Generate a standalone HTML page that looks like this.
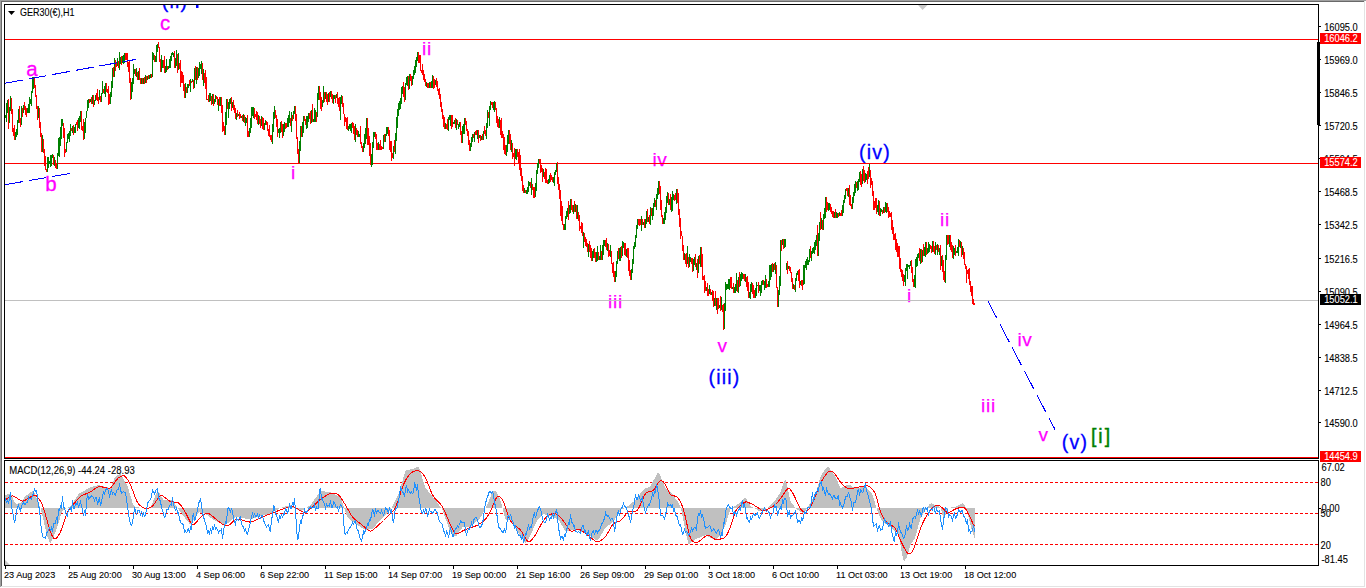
<!DOCTYPE html><html><head><meta charset="utf-8"><style>html,body{margin:0;padding:0;width:1366px;height:588px;overflow:hidden;background:#fff}svg{display:block}text{font-family:"Liberation Sans",sans-serif}</style></head><body>
<svg width="1366" height="588" viewBox="0 0 1366 588">
<defs><clipPath id="cm"><rect x="5" y="5" width="1313" height="453"/></clipPath></defs>
<g shape-rendering="crispEdges">
<rect x="0" y="0" width="1366" height="1" fill="#a0a0a0"/>
<rect x="0" y="0" width="1" height="587" fill="#a0a0a0"/>
<rect x="1" y="1" width="1364" height="1" fill="#696969"/>
<rect x="1" y="1" width="1" height="586" fill="#696969"/>
<rect x="1" y="586" width="1364" height="1" fill="#e3e3e3"/>
<rect x="1364" y="1" width="1" height="586" fill="#e3e3e3"/>
</g>
<g clip-path="url(#cm)">
<text x="175.0" y="7.5" font-size="19.5" fill="#0000ff" stroke="#0000ff" stroke-width="0.3" letter-spacing="1.2" text-anchor="middle">(ii)</text>
<rect x="196" y="5" width="2.5" height="3" fill="#0000ff"/>
<text x="165.0" y="30.0" font-size="20.5" fill="#ff00ff" stroke="#ff00ff" stroke-width="0.3" letter-spacing="0" text-anchor="middle">c</text>
<text x="32.0" y="75.5" font-size="20.5" fill="#ff00ff" stroke="#ff00ff" stroke-width="0.3" letter-spacing="0" text-anchor="middle">a</text>
<text x="51.0" y="191.0" font-size="20.5" fill="#ff00ff" stroke="#ff00ff" stroke-width="0.3" letter-spacing="0" text-anchor="middle">b</text>
<text x="293.5" y="179.0" font-size="19" fill="#ff00ff" stroke="#ff00ff" stroke-width="0.25" letter-spacing="0.7" text-anchor="middle">i</text>
<text x="427.0" y="55.0" font-size="19" fill="#ff00ff" stroke="#ff00ff" stroke-width="0.25" letter-spacing="0.7" text-anchor="middle">ii</text>
<text x="615.5" y="308.0" font-size="19" fill="#ff00ff" stroke="#ff00ff" stroke-width="0.25" letter-spacing="0.7" text-anchor="middle">iii</text>
<text x="660.0" y="166.0" font-size="19" fill="#ff00ff" stroke="#ff00ff" stroke-width="0.25" letter-spacing="0.7" text-anchor="middle">iv</text>
<text x="722.5" y="351.5" font-size="19" fill="#ff00ff" stroke="#ff00ff" stroke-width="0.25" letter-spacing="0.7" text-anchor="middle">v</text>
<text x="724.5" y="384.0" font-size="19.5" fill="#0000ff" stroke="#0000ff" stroke-width="0.3" letter-spacing="1.2" text-anchor="middle">(iii)</text>
<text x="875.0" y="159.0" font-size="19.5" fill="#0000ff" stroke="#0000ff" stroke-width="0.3" letter-spacing="1.2" text-anchor="middle">(iv)</text>
<text x="909.5" y="301.5" font-size="19" fill="#ff00ff" stroke="#ff00ff" stroke-width="0.25" letter-spacing="0.7" text-anchor="middle">i</text>
<text x="945.0" y="226.0" font-size="19" fill="#ff00ff" stroke="#ff00ff" stroke-width="0.25" letter-spacing="0.7" text-anchor="middle">ii</text>
<text x="1025.0" y="346.0" font-size="19" fill="#ff00ff" stroke="#ff00ff" stroke-width="0.25" letter-spacing="0.7" text-anchor="middle">iv</text>
<text x="988.5" y="411.5" font-size="19" fill="#ff00ff" stroke="#ff00ff" stroke-width="0.25" letter-spacing="0.7" text-anchor="middle">iii</text>
<text x="1043.5" y="441.0" font-size="19" fill="#ff00ff" stroke="#ff00ff" stroke-width="0.25" letter-spacing="0.7" text-anchor="middle">v</text>
<text x="1075.0" y="448.5" font-size="19.5" fill="#0000ff" stroke="#0000ff" stroke-width="0.3" letter-spacing="1.2" text-anchor="middle">(v)</text>
<text x="1101.5" y="443.0" font-size="19.5" fill="#008000" stroke="#008000" stroke-width="0.4" letter-spacing="2.0" text-anchor="middle">[i]</text>
</g>
<g shape-rendering="crispEdges">
<path d="M5 39.5H1318M5 163.5H1318M5 457.5H1318" stroke="#ff0000" stroke-width="1"/>
<path d="M5 300.5H1318" stroke="#c0c0c0" stroke-width="1"/>
<path d="M5.5 115.0V118.3M6.5 103.0V121.5M7.5 99.5V113.3M9.5 106.6V122.5M10.5 95.5V110.6M15.5 132.2V139.5M16.5 128.7V137.2M17.5 119.5V134.7M18.5 109.4V123.1M21.5 106.3V125.0M23.5 104.6V113.1M27.5 107.5V112.5M28.5 104.2V112.5M29.5 97.2V112.5M30.5 99.1V104.0M31.5 90.7V106.4M32.5 76.5V92.7M33.5 76.5V89.4M38.5 106.3V118.3M42.5 134.6V151.9M47.5 156.5V171.6M48.5 156.7V168.1M49.5 161.2V164.1M50.5 155.3V166.5M51.5 154.5V165.8M52.5 153.7V158.3M54.5 157.0V166.4M57.5 152.9V168.5M58.5 138.3V156.4M59.5 136.7V156.6M60.5 127.3V145.8M61.5 119.0V138.7M62.5 119.0V126.2M66.5 141.7V152.2M67.5 134.0V143.0M68.5 132.5V138.5M69.5 130.7V141.7M70.5 123.7V135.6M72.5 125.7V133.2M74.5 126.5V132.9M75.5 123.9V132.9M78.5 118.0V128.2M79.5 115.6V128.7M80.5 111.0V122.2M84.5 122.1V139.3M85.5 117.9V133.4M86.5 110.5V118.1M87.5 99.5V111.2M88.5 99.2V107.9M90.5 98.5V102.0M92.5 95.1V104.3M94.5 99.7V104.7M95.5 95.4V100.6M99.5 89.9V100.1M101.5 92.5V102.0M102.5 80.7V93.9M104.5 86.1V93.7M105.5 83.0V96.5M110.5 92.4V104.0M111.5 81.2V96.7M112.5 68.0V87.6M114.5 58.4V76.7M117.5 58.1V66.4M119.5 52.1V69.9M120.5 57.4V64.2M122.5 56.0V62.9M123.5 55.0V64.0M124.5 52.5V62.5M131.5 81.8V99.3M132.5 77.9V91.5M133.5 64.1V83.7M134.5 68.5V74.2M136.5 68.2V76.7M138.5 70.5V79.6M141.5 77.6V84.3M143.5 77.5V83.9M145.5 75.1V83.1M147.5 75.6V79.5M149.5 74.8V78.5M150.5 74.4V78.0M152.5 52.0V77.1M153.5 53.3V59.9M155.5 56.0V61.6M156.5 44.9V61.7M157.5 44.2V52.0M161.5 54.9V71.5M162.5 59.5V68.0M165.5 65.5V73.0M166.5 59.0V71.5M168.5 66.0V68.7M169.5 59.2V67.5M170.5 56.1V68.1M171.5 53.0V60.7M172.5 52.0V55.4M173.5 52.6V56.5M175.5 57.7V67.7M176.5 50.2V66.0M178.5 52.5V69.7M185.5 83.4V97.5M187.5 84.3V93.1M188.5 84.4V87.7M190.5 79.4V92.0M192.5 79.0V82.0M194.5 68.3V87.5M196.5 66.6V84.1M198.5 68.3V78.4M199.5 62.0V75.9M200.5 64.3V68.8M201.5 60.5V74.2M203.5 68.9V86.3M207.5 99.0V100.4M209.5 92.9V101.5M210.5 92.8V100.7M212.5 94.0V103.8M214.5 98.7V103.6M215.5 94.5V102.4M218.5 99.1V110.9M220.5 97.3V106.0M225.5 111.5V134.5M226.5 98.5V124.9M228.5 102.0V118.0M229.5 98.5V109.1M230.5 97.8V104.0M232.5 102.2V108.0M236.5 112.5V119.6M238.5 113.6V116.1M241.5 115.8V118.0M243.5 113.8V122.0M245.5 116.9V125.8M246.5 117.5V122.8M249.5 127.7V136.6M250.5 118.0V133.0M251.5 106.5V128.0M252.5 106.5V116.1M253.5 106.5V118.0M258.5 114.7V124.5M261.5 116.1V126.0M264.5 122.5V129.8M265.5 120.1V125.4M272.5 124.2V143.5M273.5 112.2V132.3M274.5 106.0V119.1M278.5 129.1V132.7M279.5 127.7V137.7M280.5 121.7V133.3M283.5 123.7V136.1M284.5 121.7V132.4M287.5 118.1V127.3M288.5 115.0V126.6M289.5 111.4V123.4M291.5 111.7V131.6M293.5 111.1V118.9M294.5 106.0V113.8M299.5 140.8V162.5M300.5 125.5V150.8M302.5 122.1V136.7M303.5 115.5V133.0M306.5 115.8V128.9M307.5 116.3V127.5M308.5 112.5V121.5M311.5 110.0V123.3M313.5 118.5V121.5M314.5 107.7V121.5M315.5 109.6V121.5M317.5 92.5V117.1M318.5 85.7V99.9M322.5 99.5V106.6M323.5 86.1V102.6M325.5 92.3V99.0M328.5 93.3V102.3M330.5 91.0V96.5M333.5 94.9V103.8M334.5 95.2V99.1M336.5 94.1V98.2M340.5 96.9V119.8M341.5 95.1V103.7M348.5 125.6V130.8M349.5 124.4V129.2M350.5 123.5V131.0M351.5 123.2V133.1M355.5 123.8V141.8M358.5 130.7V137.1M359.5 133.8V136.8M363.5 143.2V151.7M364.5 133.9V148.1M365.5 127.8V143.8M366.5 118.2V138.7M371.5 154.3V166.5M372.5 141.5V164.6M373.5 131.5V147.7M374.5 131.5V136.5M378.5 142.1V149.7M383.5 134.7V148.8M385.5 133.6V141.8M386.5 126.5V136.3M387.5 126.5V133.8M393.5 146.0V158.8M395.5 133.0V154.3M396.5 117.3V141.1M397.5 109.0V128.3M398.5 103.3V115.7M399.5 101.4V109.9M400.5 97.6V108.7M401.5 87.4V104.0M402.5 85.5V94.2M405.5 83.3V99.8M406.5 77.2V85.2M407.5 75.8V85.7M409.5 73.8V88.7M412.5 76.1V84.5M413.5 69.7V79.3M414.5 66.3V74.7M415.5 60.0V73.0M416.5 56.5V66.6M417.5 51.5V60.9M426.5 81.9V86.7M429.5 82.3V88.2M431.5 80.7V88.4M432.5 75.2V88.1M435.5 79.7V85.4M445.5 123.1V128.5M448.5 116.6V130.7M449.5 115.3V119.7M450.5 115.1V125.5M453.5 121.5V124.0M454.5 119.7V124.2M456.5 119.1V129.5M458.5 124.1V128.8M459.5 122.3V127.2M462.5 125.5V142.5M463.5 124.3V133.5M464.5 117.5V133.8M470.5 143.3V150.5M471.5 137.3V146.5M472.5 134.0V141.7M474.5 131.5V142.0M477.5 130.0V138.5M479.5 134.7V137.5M481.5 135.6V140.0M483.5 131.4V139.8M486.5 123.4V139.1M487.5 110.3V128.3M489.5 105.8V125.6M490.5 100.5V110.0M493.5 102.0V110.4M494.5 100.5V112.3M499.5 117.4V128.0M506.5 145.3V155.5M507.5 134.6V151.5M508.5 129.5V144.4M511.5 139.8V152.3M515.5 148.5V159.1M516.5 148.5V160.2M524.5 188.2V192.5M526.5 190.4V194.4M527.5 186.6V194.0M528.5 180.5V191.7M529.5 182.0V185.8M531.5 178.3V194.7M535.5 183.0V196.8M536.5 170.0V191.3M537.5 162.6V174.2M538.5 158.5V168.2M543.5 168.9V176.6M548.5 178.6V184.4M549.5 175.1V183.0M553.5 176.5V183.3M554.5 172.2V185.6M555.5 169.5V175.3M556.5 163.0V172.3M564.5 223.7V229.5M565.5 216.2V229.5M566.5 211.1V218.7M567.5 208.4V217.1M569.5 204.9V214.2M570.5 199.2V212.5M573.5 204.6V214.0M575.5 204.1V211.7M577.5 204.8V219.1M583.5 232.2V247.9M588.5 243.7V257.4M592.5 251.2V261.2M593.5 249.4V258.0M596.5 252.2V261.8M597.5 246.0V260.9M599.5 255.9V260.0M600.5 245.0V260.0M602.5 245.3V259.6M603.5 240.0V255.3M604.5 240.0V246.0M607.5 243.1V250.5M610.5 245.2V257.3M615.5 270.7V281.5M616.5 260.5V276.7M617.5 250.6V263.8M619.5 248.3V261.1M620.5 247.2V261.3M622.5 241.2V255.5M623.5 242.3V248.4M626.5 249.3V257.0M631.5 268.7V279.5M632.5 259.3V273.2M633.5 246.0V263.5M634.5 241.5V248.5M635.5 235.0V246.6M636.5 225.4V237.9M637.5 218.7V229.3M641.5 216.2V230.9M643.5 222.1V225.4M645.5 218.8V227.7M646.5 210.6V223.6M648.5 217.0V222.4M650.5 206.8V224.5M652.5 208.2V220.1M653.5 202.5V215.7M654.5 197.9V206.6M656.5 194.0V209.8M657.5 188.0V198.5M658.5 181.2V195.4M663.5 217.9V223.5M664.5 212.0V223.5M665.5 207.3V219.5M666.5 196.0V213.4M667.5 192.0V202.5M669.5 199.2V204.7M671.5 197.3V211.7M672.5 190.7V210.9M673.5 194.4V200.0M676.5 188.5V203.5M684.5 252.6V259.8M687.5 246.4V264.2M689.5 254.4V267.3M690.5 257.3V262.0M693.5 258.6V271.4M694.5 257.3V264.8M696.5 262.5V269.7M698.5 256.3V272.7M700.5 246.5V266.6M706.5 286.5V291.4M709.5 285.0V293.5M711.5 291.6V294.6M714.5 298.2V305.9M716.5 297.8V309.9M719.5 304.6V307.9M721.5 297.2V310.0M724.5 303.1V329.2M725.5 282.1V311.0M726.5 284.2V290.2M727.5 283.6V288.5M728.5 278.6V288.5M729.5 278.5V289.6M732.5 287.0V289.4M734.5 286.6V293.3M735.5 284.3V292.9M736.5 272.5V290.9M738.5 277.0V292.5M740.5 274.4V286.3M741.5 272.3V281.4M742.5 272.7V278.6M745.5 273.5V282.0M749.5 292.3V298.4M750.5 284.4V298.7M751.5 282.1V292.0M755.5 287.6V298.3M756.5 281.7V296.3M757.5 285.1V286.1M759.5 285.2V291.3M760.5 285.4V295.8M761.5 280.7V292.7M762.5 280.4V285.0M764.5 280.6V289.7M765.5 275.1V287.8M768.5 280.6V286.8M769.5 265.4V286.5M770.5 264.6V280.0M771.5 264.2V276.8M773.5 263.8V271.8M775.5 262.0V274.4M778.5 290.0V306.5M779.5 276.0V295.0M780.5 240.0V285.7M782.5 238.5V244.9M784.5 239.2V247.8M785.5 238.5V246.5M786.5 263.4V269.6M788.5 265.7V269.4M793.5 283.6V288.8M795.5 278.2V291.9M796.5 273.4V280.8M797.5 271.0V274.7M800.5 281.2V284.7M803.5 265.1V285.4M804.5 265.4V283.6M805.5 260.8V268.0M806.5 258.5V269.9M807.5 256.6V264.5M808.5 259.9V264.5M809.5 248.8V262.1M811.5 251.4V261.4M812.5 248.2V253.8M813.5 246.9V252.8M814.5 242.0V253.7M815.5 240.1V250.0M816.5 235.1V246.0M818.5 233.0V255.5M819.5 222.0V241.0M821.5 217.7V228.9M823.5 214.1V229.6M824.5 207.7V219.4M825.5 196.5V218.4M828.5 203.2V210.9M829.5 203.4V210.3M834.5 211.7V218.0M836.5 212.4V218.2M837.5 212.8V217.5M839.5 212.2V216.2M842.5 205.0V215.5M843.5 200.3V213.4M844.5 194.8V202.5M845.5 188.5V199.3M848.5 187.8V196.7M852.5 196.8V208.5M853.5 191.6V203.3M854.5 183.5V195.6M855.5 181.3V192.5M857.5 181.3V191.0M858.5 179.0V189.5M859.5 171.7V181.8M862.5 169.3V184.4M865.5 173.4V181.5M866.5 173.6V179.7M869.5 164.0V176.7M877.5 204.5V212.4M878.5 200.1V215.3M880.5 208.2V215.8M881.5 208.5V212.0M883.5 207.2V213.4M885.5 201.9V212.1M886.5 202.7V212.5M904.5 274.9V281.9M905.5 267.7V285.6M906.5 264.3V271.2M907.5 264.3V278.8M908.5 264.5V266.8M909.5 264.5V268.5M910.5 260.5V266.0M914.5 274.5V287.0M915.5 258.8V288.3M916.5 257.2V266.7M917.5 254.0V266.3M918.5 252.5V258.3M920.5 249.1V264.2M922.5 249.8V261.8M924.5 246.6V255.8M925.5 242.4V257.2M927.5 248.0V254.2M928.5 241.9V252.5M929.5 244.4V251.8M932.5 241.3V251.8M935.5 242.2V255.4M937.5 243.5V254.8M939.5 247.5V255.0M941.5 255.8V265.5M945.5 255.2V282.5M946.5 234.5V260.2M949.5 235.4V246.5M953.5 246.0V258.8M954.5 247.6V254.8M956.5 250.6V252.5M957.5 247.1V253.1M958.5 239.3V255.9M960.5 241.0V248.3M962.5 246.2V255.0" stroke="#008000" stroke-width="1" fill="none"/><path d="M8.5 99.3V129.3M11.5 98.4V113.6M12.5 109.3V131.7M13.5 127.6V135.7M14.5 125.0V139.5M19.5 106.4V122.6M20.5 118.2V126.9M22.5 107.7V117.1M24.5 102.1V109.5M25.5 105.8V114.8M26.5 107.6V116.5M34.5 76.5V88.1M35.5 85.1V96.5M36.5 94.7V109.2M37.5 105.8V120.0M39.5 107.5V128.1M40.5 121.8V136.7M41.5 133.0V152.1M43.5 138.9V153.3M44.5 148.7V166.2M45.5 156.4V170.3M46.5 168.9V171.5M53.5 154.9V164.7M55.5 159.9V167.6M56.5 162.5V168.5M63.5 123.2V138.0M64.5 127.8V157.0M65.5 149.3V152.7M71.5 127.6V130.5M73.5 125.0V134.5M76.5 121.9V124.7M77.5 120.4V131.4M81.5 110.7V129.8M82.5 125.5V130.9M83.5 119.4V139.5M89.5 98.9V103.0M91.5 96.8V104.1M93.5 94.8V107.4M96.5 93.2V99.8M97.5 88.8V101.0M98.5 97.4V103.8M100.5 96.2V102.2M103.5 89.2V93.1M106.5 82.8V92.0M107.5 88.9V93.3M108.5 85.6V105.1M109.5 93.5V103.6M113.5 66.6V76.9M115.5 60.1V70.5M116.5 63.4V67.3M118.5 61.3V67.6M121.5 55.9V64.7M125.5 52.5V59.8M126.5 52.5V59.9M127.5 52.5V67.0M128.5 61.5V71.7M129.5 61.3V82.8M130.5 77.9V100.0M135.5 68.5V75.9M137.5 71.7V80.0M139.5 67.9V80.3M140.5 77.5V83.9M142.5 78.0V84.3M144.5 77.0V83.5M146.5 76.0V82.7M148.5 75.2V79.0M151.5 74.0V77.5M154.5 54.7V61.5M158.5 42.0V48.2M159.5 47.1V61.9M160.5 58.5V71.5M163.5 59.9V68.1M164.5 56.3V72.7M167.5 66.0V69.8M174.5 50.9V68.1M177.5 53.7V72.7M179.5 62.7V69.1M180.5 60.0V87.4M181.5 71.3V83.4M182.5 72.2V82.6M183.5 75.3V90.6M184.5 84.1V97.5M186.5 86.9V93.1M189.5 79.6V86.4M191.5 80.6V83.3M193.5 79.5V89.0M195.5 65.7V80.1M197.5 67.3V79.6M202.5 62.8V79.7M204.5 73.0V82.6M205.5 69.5V89.0M206.5 76.5V100.0M208.5 95.4V101.5M211.5 96.3V104.7M213.5 93.6V105.8M216.5 95.7V98.9M217.5 96.9V104.8M219.5 97.2V105.8M221.5 97.4V112.8M222.5 104.9V131.8M223.5 122.1V130.7M224.5 125.7V134.5M227.5 98.5V109.4M231.5 97.3V111.0M233.5 100.3V110.0M234.5 104.9V113.3M235.5 107.7V118.8M237.5 110.3V116.9M239.5 111.9V119.3M240.5 113.9V118.1M242.5 114.8V120.7M244.5 114.6V122.8M247.5 114.7V137.0M248.5 131.1V137.4M254.5 107.7V118.6M255.5 113.5V117.3M256.5 110.9V120.0M257.5 112.3V124.4M259.5 115.6V123.8M260.5 118.9V127.5M262.5 116.8V128.8M263.5 117.8V129.6M266.5 120.8V125.0M267.5 121.9V130.8M268.5 129.4V135.7M269.5 125.3V137.3M270.5 134.7V139.8M271.5 135.4V142.0M275.5 109.9V118.3M276.5 114.5V126.7M277.5 118.7V137.0M281.5 120.6V131.8M282.5 123.8V137.9M285.5 122.8V128.7M286.5 123.3V128.0M290.5 117.5V125.8M292.5 114.8V120.7M295.5 106.0V120.9M296.5 113.5V139.3M297.5 137.1V153.9M298.5 148.7V162.5M301.5 126.0V136.7M304.5 115.5V120.7M305.5 118.5V125.4M309.5 112.8V119.0M310.5 111.2V124.1M312.5 103.7V121.6M316.5 112.3V121.5M319.5 86.0V100.2M320.5 92.2V109.0M321.5 97.4V111.3M324.5 92.3V102.0M326.5 91.6V102.0M327.5 94.4V105.0M329.5 92.2V101.6M331.5 91.0V99.1M332.5 94.4V102.5M335.5 94.7V102.5M337.5 91.9V104.0M338.5 97.7V107.1M339.5 97.3V110.7M342.5 96.1V106.6M343.5 102.5V114.2M344.5 114.0V126.1M345.5 116.9V121.6M346.5 118.2V128.9M347.5 117.2V129.5M352.5 122.3V128.0M353.5 123.4V134.1M354.5 125.5V140.0M356.5 128.1V134.7M357.5 130.1V136.6M360.5 126.3V143.6M361.5 141.5V147.6M362.5 145.9V152.0M367.5 118.2V144.6M368.5 128.3V144.6M369.5 136.4V156.0M370.5 143.1V165.0M375.5 131.5V138.5M376.5 134.1V150.4M377.5 142.5V149.7M379.5 144.1V149.7M380.5 140.4V150.1M381.5 146.4V149.5M382.5 147.0V148.8M384.5 134.2V141.6M388.5 126.5V135.8M389.5 130.4V150.4M390.5 141.0V152.4M391.5 141.4V160.5M392.5 152.5V158.0M394.5 139.5V151.6M403.5 82.3V96.9M404.5 87.2V101.8M408.5 76.3V89.6M410.5 73.8V80.6M411.5 75.6V85.9M418.5 51.5V62.9M419.5 55.4V63.4M420.5 54.5V70.7M421.5 69.7V72.6M422.5 63.5V75.0M423.5 69.8V80.0M424.5 73.5V81.6M425.5 78.7V85.8M427.5 82.5V87.5M428.5 83.2V88.2M430.5 81.5V88.2M433.5 75.9V89.1M434.5 78.7V88.2M436.5 77.5V87.2M437.5 81.2V91.3M438.5 88.5V95.0M439.5 88.3V98.9M440.5 94.3V107.0M441.5 101.9V112.2M442.5 108.6V119.4M443.5 114.6V126.9M444.5 117.2V128.5M446.5 123.9V129.2M447.5 118.9V129.8M451.5 114.9V128.6M452.5 115.1V126.6M455.5 117.9V128.3M457.5 119.8V125.0M460.5 122.3V135.3M461.5 131.3V142.5M465.5 117.5V124.8M466.5 120.9V130.8M467.5 128.9V136.3M468.5 130.6V145.0M469.5 140.1V150.5M473.5 134.0V137.8M475.5 130.7V134.6M476.5 130.0V135.1M478.5 130.2V143.0M480.5 134.7V141.1M482.5 134.3V140.4M484.5 125.7V134.3M485.5 130.0V135.5M488.5 112.0V118.1M491.5 101.8V105.2M492.5 102.0V108.0M495.5 101.9V110.2M496.5 108.4V122.6M497.5 116.3V126.7M498.5 118.9V127.9M500.5 119.8V135.4M501.5 117.9V137.7M502.5 131.3V138.0M503.5 134.1V150.2M504.5 136.9V153.7M505.5 145.3V154.6M509.5 129.5V144.3M510.5 134.1V150.0M512.5 143.0V158.5M513.5 152.6V157.0M514.5 147.8V165.6M517.5 148.5V156.7M518.5 151.5V164.4M519.5 148.5V170.0M520.5 154.5V175.7M521.5 167.7V181.3M522.5 175.6V191.3M523.5 185.3V192.5M525.5 190.0V193.4M530.5 181.5V188.4M532.5 184.1V190.0M533.5 186.6V197.5M534.5 187.0V197.5M539.5 158.5V163.4M540.5 158.5V172.5M541.5 164.7V171.5M542.5 167.6V181.7M544.5 172.3V178.6M545.5 168.1V182.5M546.5 169.2V183.3M547.5 179.5V184.2M550.5 173.0V182.4M551.5 175.1V180.4M552.5 176.8V181.8M557.5 161.8V183.8M558.5 177.1V190.0M559.5 184.2V198.9M560.5 190.4V216.2M561.5 200.6V221.4M562.5 206.3V225.0M563.5 223.5V229.5M568.5 201.1V220.0M571.5 198.6V210.1M572.5 205.3V211.7M574.5 201.2V212.1M576.5 205.3V218.5M578.5 212.4V220.5M579.5 214.6V230.5M580.5 225.5V229.3M581.5 222.3V232.6M582.5 222.8V236.3M584.5 232.9V242.3M585.5 236.8V245.9M586.5 239.4V246.5M587.5 242.8V252.0M589.5 241.1V252.0M590.5 244.5V258.1M591.5 247.6V260.7M594.5 248.0V258.0M595.5 252.0V262.3M598.5 252.0V260.0M601.5 250.7V260.0M605.5 239.5V246.7M606.5 238.2V250.0M608.5 243.9V257.4M609.5 250.4V256.2M611.5 250.6V264.4M612.5 262.6V273.2M613.5 262.1V277.2M614.5 271.2V281.5M618.5 248.3V258.5M621.5 245.6V257.9M624.5 242.5V255.0M625.5 242.5V256.2M627.5 248.2V257.7M628.5 247.9V271.4M629.5 260.1V275.8M630.5 270.2V279.5M638.5 218.5V225.4M639.5 218.5V225.7M640.5 219.2V225.0M642.5 218.7V225.2M644.5 219.4V228.3M647.5 209.2V221.7M649.5 215.0V223.6M651.5 208.4V215.5M655.5 200.0V207.3M659.5 180.5V193.5M660.5 185.6V209.8M661.5 200.2V217.0M662.5 214.9V223.5M668.5 192.6V205.2M670.5 194.2V210.0M674.5 194.7V200.6M675.5 192.7V200.4M677.5 188.5V202.5M678.5 192.7V215.0M679.5 208.5V227.1M680.5 218.1V238.8M681.5 231.0V235.9M682.5 235.5V251.0M683.5 245.0V259.5M685.5 253.7V264.0M686.5 253.1V266.5M688.5 256.7V268.3M691.5 257.8V264.1M692.5 258.0V272.0M695.5 254.3V266.5M697.5 259.1V277.5M699.5 254.7V263.5M701.5 246.5V267.1M702.5 253.9V279.6M703.5 275.7V280.4M704.5 275.2V293.1M705.5 280.6V290.7M707.5 283.0V296.4M708.5 289.4V296.1M710.5 289.1V295.4M712.5 289.8V301.2M713.5 290.5V307.2M715.5 291.2V305.7M717.5 297.9V314.3M718.5 297.5V308.8M720.5 296.2V311.3M722.5 304.9V312.0M723.5 303.9V329.8M730.5 276.7V288.1M731.5 276.7V289.2M733.5 283.3V293.3M737.5 280.4V292.4M739.5 272.4V287.0M743.5 273.5V278.5M744.5 273.5V280.6M746.5 277.0V286.7M747.5 275.8V291.3M748.5 281.8V298.1M752.5 282.8V293.6M753.5 285.0V297.8M754.5 290.4V298.3M758.5 281.7V293.1M763.5 280.1V285.0M766.5 278.6V287.7M767.5 283.6V287.2M772.5 263.1V272.4M774.5 262.5V269.7M776.5 265.3V288.3M777.5 287.2V306.5M781.5 240.0V251.3M783.5 238.5V249.3M787.5 261.0V274.0M789.5 265.8V271.3M790.5 267.3V272.6M791.5 271.8V281.5M792.5 278.0V289.1M794.5 285.2V290.0M798.5 270.0V281.0M799.5 269.1V288.3M801.5 280.0V286.0M802.5 280.3V290.0M810.5 246.3V258.1M817.5 224.9V255.5M820.5 211.8V229.8M822.5 220.4V230.0M826.5 196.5V212.1M827.5 202.0V210.2M830.5 204.0V212.3M831.5 206.7V213.7M832.5 211.1V216.7M833.5 211.4V217.7M835.5 209.2V218.4M838.5 213.2V216.9M840.5 212.5V215.6M841.5 209.5V215.5M846.5 188.2V191.1M847.5 188.0V195.7M849.5 184.7V204.9M850.5 195.1V206.0M851.5 203.8V208.5M856.5 181.6V187.7M860.5 171.1V185.3M861.5 174.4V186.9M863.5 166.3V181.1M864.5 170.2V182.6M867.5 170.7V184.2M868.5 167.3V179.3M870.5 170.4V187.7M871.5 178.1V185.0M872.5 181.1V195.8M873.5 190.8V209.7M874.5 200.5V210.0M875.5 198.1V208.3M876.5 198.0V213.5M879.5 201.2V215.8M882.5 209.7V213.5M884.5 206.8V212.7M887.5 203.4V211.5M888.5 206.5V218.3M889.5 210.9V217.1M890.5 213.3V216.6M891.5 212.2V230.3M892.5 220.2V233.8M893.5 227.3V239.6M894.5 233.5V240.4M895.5 233.4V249.8M896.5 238.7V251.8M897.5 242.7V256.7M898.5 245.8V257.3M899.5 245.5V268.7M900.5 257.9V272.0M901.5 268.5V276.7M902.5 269.7V281.3M903.5 274.1V286.0M911.5 259.9V273.0M912.5 267.1V281.5M913.5 279.4V287.0M919.5 247.7V261.4M921.5 249.1V263.3M923.5 244.0V255.6M926.5 241.6V255.0M930.5 245.0V249.0M931.5 245.6V252.8M933.5 241.1V252.4M934.5 246.2V253.5M936.5 245.3V249.7M938.5 245.2V251.5M940.5 245.3V269.7M942.5 254.9V272.0M943.5 259.8V280.0M944.5 271.4V282.4M947.5 234.5V244.9M948.5 235.2V243.5M950.5 234.5V250.0M951.5 242.4V252.1M952.5 244.7V258.2M955.5 244.8V256.0M959.5 240.0V247.4M961.5 242.0V257.4M963.5 247.6V259.0M964.5 252.3V264.5M965.5 264.3V269.1M966.5 265.6V283.0M967.5 269.8V274.3M968.5 268.8V278.7M969.5 268.1V285.0M970.5 281.1V292.0M971.5 286.1V296.4M972.5 285.5V303.7M973.5 299.0V304.5M974.5 303.0V304.7" stroke="#ff0000" stroke-width="1" fill="none"/>
</g>
<path d="M5 83.2L135.8 59.4M5 184.7L71.4 173.2" stroke="#0000ff" stroke-width="1" stroke-dasharray="18,6" fill="none" shape-rendering="crispEdges"/>
<path d="M987.6 300.5L1055 429.5" stroke="#0000ff" stroke-width="1" stroke-dasharray="20,6.5" fill="none" shape-rendering="crispEdges"/>
<g shape-rendering="crispEdges" fill="none" stroke="#000" stroke-width="1">
<path d="M4.5 4.5H1318.5V458.5H4.5Z"/>
<path d="M4.5 460.5H1318.5V565.5H4.5Z"/>
</g>
<rect x="1317" y="42" width="3" height="83" fill="#000"/>
<path d="M918 5H927.5L922.6 10Z" fill="#c8c8c8"/>
<path d="M1318 26.5H1321M1318 59.5H1321M1318 92.5H1321M1318 125.5H1321M1318 158.5H1321M1318 191.5H1321M1318 224.5H1321M1318 258.5H1321M1318 291.5H1321M1318 324.5H1321M1318 357.5H1321M1318 390.5H1321M1318 422.5H1321" stroke="#000" stroke-width="1" shape-rendering="crispEdges"/>
<text transform="translate(1324.20 31.00) scale(0.93 1.0)" font-size="10" fill="#000" stroke="#000" stroke-width="0.1">16095.0</text>
<text transform="translate(1324.20 64.00) scale(0.93 1.0)" font-size="10" fill="#000" stroke="#000" stroke-width="0.1">15969.0</text>
<text transform="translate(1324.20 97.00) scale(0.93 1.0)" font-size="10" fill="#000" stroke="#000" stroke-width="0.1">15846.5</text>
<text transform="translate(1324.20 130.00) scale(0.93 1.0)" font-size="10" fill="#000" stroke="#000" stroke-width="0.1">15720.5</text>
<text transform="translate(1324.20 163.00) scale(0.93 1.0)" font-size="10" fill="#000" stroke="#000" stroke-width="0.1">15594.5</text>
<text transform="translate(1324.20 196.00) scale(0.93 1.0)" font-size="10" fill="#000" stroke="#000" stroke-width="0.1">15468.5</text>
<text transform="translate(1324.20 229.00) scale(0.93 1.0)" font-size="10" fill="#000" stroke="#000" stroke-width="0.1">15342.5</text>
<text transform="translate(1324.20 263.00) scale(0.93 1.0)" font-size="10" fill="#000" stroke="#000" stroke-width="0.1">15216.5</text>
<text transform="translate(1324.20 296.00) scale(0.93 1.0)" font-size="10" fill="#000" stroke="#000" stroke-width="0.1">15090.5</text>
<text transform="translate(1324.20 329.00) scale(0.93 1.0)" font-size="10" fill="#000" stroke="#000" stroke-width="0.1">14964.5</text>
<text transform="translate(1324.20 362.00) scale(0.93 1.0)" font-size="10" fill="#000" stroke="#000" stroke-width="0.1">14838.5</text>
<text transform="translate(1324.20 395.00) scale(0.93 1.0)" font-size="10" fill="#000" stroke="#000" stroke-width="0.1">14712.5</text>
<text transform="translate(1324.20 427.00) scale(0.93 1.0)" font-size="10" fill="#000" stroke="#000" stroke-width="0.1">14590.0</text>
<rect x="1320" y="33.0" width="41" height="11" fill="#ff0000"/>
<text transform="translate(1324.20 42.00) scale(0.93 1.0)" font-size="10" fill="#fff" stroke="#fff" stroke-width="0.1">16046.2</text>
<rect x="1320" y="157.0" width="41" height="11" fill="#ff0000"/>
<text transform="translate(1324.20 166.00) scale(0.93 1.0)" font-size="10" fill="#fff" stroke="#fff" stroke-width="0.1">15574.2</text>
<rect x="1320" y="294.0" width="41" height="11" fill="#000000"/>
<text transform="translate(1324.20 303.00) scale(0.93 1.0)" font-size="10" fill="#fff" stroke="#fff" stroke-width="0.1">15052.1</text>
<rect x="1320" y="451.0" width="41" height="11" fill="#ff0000"/>
<text transform="translate(1324.20 460.00) scale(0.93 1.0)" font-size="10" fill="#fff" stroke="#fff" stroke-width="0.1">14454.9</text>
<path d="M5 482.5H1318M5 513.5H1318M5 544.5H1318" stroke="#ff0000" stroke-width="1" stroke-dasharray="3,2" shape-rendering="crispEdges"/>
<g shape-rendering="crispEdges"><path d="M5.5 494.9V508.0M6.5 494.6V508.0M7.5 494.2V508.0M8.5 493.8V508.0M9.5 493.5V508.0M10.5 493.7V508.0M11.5 495.3V508.0M12.5 497.4V508.0M13.5 499.6V508.0M14.5 501.7V508.0M15.5 503.3V508.0M16.5 503.7V508.0M17.5 503.6V508.0M18.5 503.4V508.0M19.5 503.2V508.0M20.5 502.7V508.0M21.5 501.6V508.0M22.5 500.2V508.0M23.5 498.8V508.0M24.5 497.4V508.0M25.5 496.2V508.0M26.5 495.3V508.0M27.5 494.5V508.0M28.5 493.8V508.0M29.5 493.0V508.0M30.5 492.2V508.0M31.5 491.5V508.0M32.5 490.8V508.0M33.5 490.9V508.0M34.5 492.6V508.0M35.5 495.1V508.0M36.5 497.7V508.0M37.5 500.3V508.0M38.5 502.9V508.0M39.5 505.5V508.0M40.5 508.0V508.4M41.5 508.0V512.2M42.5 508.0V516.3M43.5 508.0V520.4M44.5 508.0V524.6M45.5 508.0V528.7M46.5 508.0V532.8M47.5 508.0V536.5M48.5 508.0V539.3M49.5 508.0V541.6M50.5 508.0V542.7M51.5 508.0V541.4M52.5 508.0V539.0M53.5 508.0V536.5M54.5 508.0V534.0M55.5 508.0V531.5M56.5 508.0V528.8M57.5 508.0V525.8M58.5 508.0V522.7M59.5 508.0V519.5M60.5 508.0V516.3M61.5 508.0V513.2M62.5 508.0V510.7M63.5 508.0V509.6M64.5 508.0V509.0M65.5 508.0V508.5M66.5 508.0V508.0M67.5 507.5V508.0M68.5 507.0V508.0M69.5 506.5V508.0M70.5 505.7V508.0M71.5 504.5V508.0M72.5 503.0V508.0M73.5 501.5V508.0M74.5 500.0V508.0M75.5 498.5V508.0M76.5 497.0V508.0M77.5 495.5V508.0M78.5 494.2V508.0M79.5 493.4V508.0M80.5 492.8V508.0M81.5 492.2V508.0M82.5 491.7V508.0M83.5 491.1V508.0M84.5 490.5V508.0M85.5 489.9V508.0M86.5 489.3V508.0M87.5 488.8V508.0M88.5 488.2V508.0M89.5 487.6V508.0M90.5 487.1V508.0M91.5 486.8V508.0M92.5 486.5V508.0M93.5 486.2V508.0M94.5 486.0V508.0M95.5 485.8V508.0M96.5 485.5V508.0M97.5 485.3V508.0M98.5 485.1V508.0M99.5 485.3V508.0M100.5 485.5V508.0M101.5 485.7V508.0M102.5 486.0V508.0M103.5 486.2V508.0M104.5 486.5V508.0M105.5 486.8V508.0M106.5 487.0V508.0M107.5 487.2V508.0M108.5 487.5V508.0M109.5 487.7V508.0M110.5 487.3V508.0M111.5 485.5V508.0M112.5 483.2V508.0M113.5 480.8V508.0M114.5 478.4V508.0M115.5 476.5V508.0M116.5 475.6V508.0M117.5 475.0V508.0M118.5 474.6V508.0M119.5 474.1V508.0M120.5 474.2V508.0M121.5 475.4V508.0M122.5 477.1V508.0M123.5 478.9V508.0M124.5 480.7V508.0M125.5 482.5V508.0M126.5 484.3V508.0M127.5 486.4V508.0M128.5 489.4V508.0M129.5 492.7V508.0M130.5 496.0V508.0M131.5 499.3V508.0M132.5 502.6V508.0M133.5 505.2V508.0M134.5 506.2V508.0M135.5 506.6V508.0M136.5 506.9V508.0M137.5 507.1V508.0M138.5 507.4V508.0M139.5 507.7V508.0M140.5 507.9V508.0M141.5 508.0V508.0M142.5 508.0V508.0M143.5 508.0V508.0M144.5 508.0V508.0M145.5 508.0V508.0M146.5 508.0V508.0M147.5 508.0V508.0M148.5 508.0V508.0M149.5 507.9V508.0M150.5 507.3V508.0M151.5 505.4V508.0M152.5 502.9V508.0M153.5 500.3V508.0M154.5 497.7V508.0M155.5 495.1V508.0M156.5 492.7V508.0M157.5 491.2V508.0M158.5 491.8V508.0M159.5 493.3V508.0M160.5 495.0V508.0M161.5 496.7V508.0M162.5 498.3V508.0M163.5 499.5V508.0M164.5 500.0V508.0M165.5 500.0V508.0M166.5 500.0V508.0M167.5 500.0V508.0M168.5 500.0V508.0M169.5 500.0V508.0M170.5 500.0V508.0M171.5 500.0V508.0M172.5 500.4V508.0M173.5 501.5V508.0M174.5 503.0V508.0M175.5 504.5V508.0M176.5 506.0V508.0M177.5 507.5V508.0M178.5 508.0V509.0M179.5 508.0V510.5M180.5 508.0V511.9M181.5 508.0V513.3M182.5 508.0V514.6M183.5 508.0V515.9M184.5 508.0V517.2M185.5 508.0V518.5M186.5 508.0V519.8M187.5 508.0V521.1M188.5 508.0V522.4M189.5 508.0V523.6M190.5 508.0V524.2M191.5 508.0V523.3M192.5 508.0V521.8M193.5 508.0V520.1M194.5 508.0V518.5M195.5 508.0V516.9M196.5 508.0V515.2M197.5 508.0V513.7M198.5 508.0V512.5M199.5 508.0V512.3M200.5 508.0V512.6M201.5 508.0V512.9M202.5 508.0V513.1M203.5 508.0V513.4M204.5 508.0V513.7M205.5 508.0V514.1M206.5 508.0V514.7M207.5 508.0V515.4M208.5 508.0V516.1M209.5 508.0V516.8M210.5 508.0V517.5M211.5 508.0V518.2M212.5 508.0V518.9M213.5 508.0V519.6M214.5 508.0V520.3M215.5 508.0V520.9M216.5 508.0V521.4M217.5 508.0V521.8M218.5 508.0V522.2M219.5 508.0V522.6M220.5 508.0V523.0M221.5 508.0V523.4M222.5 508.0V523.8M223.5 508.0V524.2M224.5 508.0V524.6M225.5 508.0V524.7M226.5 508.0V524.2M227.5 508.0V523.4M228.5 508.0V522.6M229.5 508.0V521.8M230.5 508.0V521.0M231.5 508.0V520.2M232.5 508.0V519.4M233.5 508.0V518.6M234.5 508.0V517.8M235.5 508.0V517.3M236.5 508.0V517.1M237.5 508.0V517.2M238.5 508.0V517.4M239.5 508.0V517.5M240.5 508.0V517.6M241.5 508.0V517.8M242.5 508.0V518.0M243.5 508.0V518.2M244.5 508.0V518.4M245.5 508.0V518.6M246.5 508.0V518.8M247.5 508.0V519.0M248.5 508.0V519.2M249.5 508.0V519.4M250.5 508.0V519.4M251.5 508.0V519.2M252.5 508.0V518.8M253.5 508.0V518.4M254.5 508.0V518.0M255.5 508.0V517.6M256.5 508.0V517.2M257.5 508.0V516.8M258.5 508.0V516.4M259.5 508.0V516.0M260.5 508.0V515.7M261.5 508.0V515.4M262.5 508.0V515.2M263.5 508.0V515.0M264.5 508.0V514.8M265.5 508.0V514.7M266.5 508.0V514.5M267.5 508.0V514.3M268.5 508.0V514.1M269.5 508.0V513.9M270.5 508.0V513.6M271.5 508.0V513.1M272.5 508.0V512.5M273.5 508.0V511.9M274.5 508.0V511.3M275.5 508.0V510.7M276.5 508.0V510.2M277.5 508.0V509.6M278.5 508.0V509.0M279.5 508.0V508.4M280.5 507.9V508.0M281.5 507.5V508.0M282.5 507.2V508.0M283.5 507.0V508.0M284.5 506.7V508.0M285.5 506.4V508.0M286.5 506.1V508.0M287.5 505.8V508.0M288.5 505.6V508.0M289.5 505.3V508.0M290.5 505.3V508.0M291.5 505.7V508.0M292.5 506.3V508.0M293.5 507.0V508.0M294.5 507.7V508.0M295.5 508.0V508.4M296.5 508.0V509.0M297.5 508.0V509.7M298.5 508.0V510.4M299.5 508.0V511.0M300.5 508.0V511.3M301.5 508.0V511.0M302.5 508.0V510.4M303.5 508.0V509.7M304.5 508.0V509.0M305.5 508.0V508.3M306.5 507.7V508.0M307.5 507.0V508.0M308.5 506.3V508.0M309.5 505.7V508.0M310.5 504.8V508.0M311.5 503.6V508.0M312.5 502.2V508.0M313.5 500.8V508.0M314.5 499.4V508.0M315.5 498.0V508.0M316.5 496.6V508.0M317.5 495.2V508.0M318.5 493.8V508.0M319.5 492.4V508.0M320.5 491.4V508.0M321.5 491.1V508.0M322.5 491.2V508.0M323.5 491.3V508.0M324.5 491.4V508.0M325.5 491.5V508.0M326.5 491.6V508.0M327.5 491.7V508.0M328.5 491.8V508.0M329.5 491.9V508.0M330.5 492.1V508.0M331.5 492.5V508.0M332.5 493.0V508.0M333.5 493.5V508.0M334.5 494.0V508.0M335.5 494.5V508.0M336.5 495.0V508.0M337.5 495.5V508.0M338.5 496.0V508.0M339.5 496.6V508.0M340.5 497.7V508.0M341.5 500.0V508.0M342.5 502.9V508.0M343.5 505.8V508.0M344.5 508.0V508.8M345.5 508.0V511.7M346.5 508.0V514.6M347.5 508.0V517.0M348.5 508.0V518.4M349.5 508.0V519.2M350.5 508.0V520.0M351.5 508.0V520.8M352.5 508.0V521.6M353.5 508.0V522.4M354.5 508.0V523.2M355.5 508.0V523.9M356.5 508.0V524.6M357.5 508.0V525.2M358.5 508.0V525.8M359.5 508.0V526.4M360.5 508.0V527.0M361.5 508.0V527.6M362.5 508.0V528.2M363.5 508.0V528.8M364.5 508.0V529.4M365.5 508.0V529.8M366.5 508.0V529.8M367.5 508.0V529.7M368.5 508.0V529.6M369.5 508.0V529.4M370.5 508.0V529.3M371.5 508.0V529.1M372.5 508.0V528.7M373.5 508.0V527.8M374.5 508.0V526.6M375.5 508.0V525.5M376.5 508.0V524.3M377.5 508.0V523.1M378.5 508.0V522.0M379.5 508.0V520.8M380.5 508.0V519.7M381.5 508.0V518.6M382.5 508.0V517.6M383.5 508.0V516.7M384.5 508.0V515.7M385.5 508.0V514.7M386.5 508.0V513.7M387.5 508.0V512.7M388.5 508.0V511.8M389.5 508.0V510.8M390.5 508.0V509.5M391.5 507.8V508.0M392.5 505.8V508.0M393.5 503.9V508.0M394.5 501.9V508.0M395.5 499.9V508.0M396.5 497.9V508.0M397.5 495.9V508.0M398.5 493.6V508.0M399.5 490.6V508.0M400.5 487.3V508.0M401.5 484.0V508.0M402.5 480.6V508.0M403.5 477.3V508.0M404.5 474.0V508.0M405.5 471.4V508.0M406.5 470.4V508.0M407.5 470.1V508.0M408.5 469.9V508.0M409.5 469.6V508.0M410.5 469.4V508.0M411.5 469.2V508.0M412.5 468.9V508.0M413.5 468.6V508.0M414.5 468.1V508.0M415.5 467.5V508.0M416.5 467.0V508.0M417.5 466.5V508.0M418.5 466.8V508.0M419.5 469.1V508.0M420.5 472.1V508.0M421.5 475.3V508.0M422.5 478.5V508.0M423.5 481.7V508.0M424.5 484.8V508.0M425.5 487.5V508.0M426.5 489.2V508.0M427.5 490.4V508.0M428.5 491.6V508.0M429.5 492.8V508.0M430.5 494.0V508.0M431.5 495.2V508.0M432.5 496.4V508.0M433.5 497.6V508.0M434.5 498.8V508.0M435.5 500.1V508.0M436.5 501.4V508.0M437.5 502.8V508.0M438.5 504.2V508.0M439.5 505.6V508.0M440.5 507.0V508.0M441.5 508.0V508.4M442.5 508.0V510.2M443.5 508.0V512.7M444.5 508.0V515.6M445.5 508.0V518.5M446.5 508.0V521.4M447.5 508.0V524.3M448.5 508.0V527.2M449.5 508.0V530.1M450.5 508.0V532.4M451.5 508.0V533.8M452.5 508.0V534.6M453.5 508.0V535.4M454.5 508.0V536.2M455.5 508.0V536.4M456.5 508.0V535.5M457.5 508.0V534.1M458.5 508.0V532.7M459.5 508.0V531.3M460.5 508.0V529.9M461.5 508.0V528.5M462.5 508.0V527.4M463.5 508.0V527.0M464.5 508.0V527.0M465.5 508.0V527.0M466.5 508.0V527.0M467.5 508.0V527.0M468.5 508.0V527.0M469.5 508.0V527.0M470.5 508.0V526.7M471.5 508.0V526.0M472.5 508.0V525.1M473.5 508.0V524.2M474.5 508.0V523.2M475.5 508.0V522.3M476.5 508.0V521.4M477.5 508.0V520.4M478.5 508.0V519.5M479.5 508.0V518.5M480.5 508.0V517.3M481.5 508.0V515.6M482.5 508.0V513.7M483.5 508.0V511.8M484.5 508.0V509.8M485.5 507.9V508.0M486.5 505.9V508.0M487.5 503.9V508.0M488.5 501.6V508.0M489.5 499.2V508.0M490.5 496.8V508.0M491.5 494.4V508.0M492.5 492.5V508.0M493.5 491.4V508.0M494.5 490.7V508.0M495.5 490.7V508.0M496.5 492.1V508.0M497.5 494.0V508.0M498.5 496.0V508.0M499.5 498.0V508.0M500.5 500.5V508.0M501.5 504.0V508.0M502.5 507.8V508.0M503.5 508.0V511.8M504.5 508.0V515.6M505.5 508.0V518.5M506.5 508.0V519.5M507.5 508.0V519.6M508.5 508.0V519.6M509.5 508.0V519.6M510.5 508.0V520.1M511.5 508.0V521.3M512.5 508.0V522.9M513.5 508.0V524.6M514.5 508.0V526.3M515.5 508.0V528.0M516.5 508.0V529.7M517.5 508.0V531.3M518.5 508.0V533.0M519.5 508.0V534.6M520.5 508.0V536.1M521.5 508.0V537.7M522.5 508.0V539.3M523.5 508.0V540.9M524.5 508.0V542.4M525.5 508.0V543.1M526.5 508.0V542.1M527.5 508.0V540.4M528.5 508.0V538.6M529.5 508.0V536.8M530.5 508.0V534.9M531.5 508.0V532.8M532.5 508.0V530.6M533.5 508.0V528.4M534.5 508.0V526.2M535.5 508.0V524.0M536.5 508.0V521.8M537.5 508.0V519.9M538.5 508.0V518.6M539.5 508.0V517.6M540.5 508.0V516.7M541.5 508.0V515.7M542.5 508.0V514.7M543.5 508.0V514.1M544.5 508.0V514.1M545.5 508.0V514.5M546.5 508.0V514.9M547.5 508.0V515.3M548.5 508.0V515.6M549.5 508.0V516.0M550.5 508.0V516.4M551.5 508.0V516.8M552.5 508.0V517.2M553.5 508.0V517.6M554.5 508.0V518.0M555.5 508.0V518.4M556.5 508.0V518.8M557.5 508.0V519.2M558.5 508.0V519.9M559.5 508.0V521.3M560.5 508.0V522.9M561.5 508.0V524.6M562.5 508.0V526.3M563.5 508.0V528.0M564.5 508.0V529.6M565.5 508.0V530.8M566.5 508.0V531.1M567.5 508.0V530.9M568.5 508.0V530.7M569.5 508.0V530.5M570.5 508.0V530.3M571.5 508.0V530.1M572.5 508.0V529.9M573.5 508.0V529.7M574.5 508.0V529.5M575.5 508.0V529.5M576.5 508.0V529.7M577.5 508.0V530.0M578.5 508.0V530.4M579.5 508.0V530.8M580.5 508.0V531.1M581.5 508.0V531.5M582.5 508.0V531.9M583.5 508.0V532.3M584.5 508.0V532.6M585.5 508.0V533.1M586.5 508.0V533.7M587.5 508.0V534.3M588.5 508.0V535.0M589.5 508.0V535.7M590.5 508.0V536.3M591.5 508.0V537.0M592.5 508.0V537.7M593.5 508.0V538.3M594.5 508.0V539.0M595.5 508.0V539.7M596.5 508.0V540.3M597.5 508.0V540.4M598.5 508.0V539.2M599.5 508.0V537.6M600.5 508.0V535.9M601.5 508.0V534.2M602.5 508.0V532.5M603.5 508.0V530.8M604.5 508.0V529.1M605.5 508.0V527.7M606.5 508.0V526.7M607.5 508.0V525.9M608.5 508.0V525.2M609.5 508.0V524.5M610.5 508.0V523.7M611.5 508.0V523.0M612.5 508.0V522.2M613.5 508.0V521.2M614.5 508.0V519.8M615.5 508.0V518.2M616.5 508.0V516.5M617.5 508.0V514.8M618.5 508.0V513.1M619.5 508.0V511.5M620.5 508.0V510.1M621.5 508.0V509.4M622.5 508.0V509.0M623.5 508.0V508.6M624.5 508.0V508.2M625.5 507.7V508.0M626.5 507.0V508.0M627.5 506.2V508.0M628.5 505.5V508.0M629.5 504.7V508.0M630.5 503.9V508.0M631.5 503.1V508.0M632.5 502.3V508.0M633.5 501.6V508.0M634.5 500.8V508.0M635.5 499.8V508.0M636.5 498.6V508.0M637.5 497.3V508.0M638.5 495.9V508.0M639.5 494.6V508.0M640.5 493.2V508.0M641.5 491.9V508.0M642.5 490.6V508.0M643.5 489.5V508.0M644.5 488.8V508.0M645.5 488.4V508.0M646.5 488.0V508.0M647.5 487.5V508.0M648.5 487.1V508.0M649.5 486.7V508.0M650.5 485.9V508.0M651.5 484.3V508.0M652.5 482.4V508.0M653.5 480.4V508.0M654.5 478.5V508.0M655.5 476.6V508.0M656.5 474.9V508.0M657.5 473.3V508.0M658.5 472.7V508.0M659.5 474.0V508.0M660.5 476.3V508.0M661.5 478.6V508.0M662.5 481.0V508.0M663.5 483.3V508.0M664.5 485.6V508.0M665.5 487.6V508.0M666.5 488.8V508.0M667.5 489.7V508.0M668.5 490.6V508.0M669.5 491.4V508.0M670.5 492.3V508.0M671.5 493.2V508.0M672.5 494.2V508.0M673.5 495.5V508.0M674.5 497.0V508.0M675.5 498.5V508.0M676.5 499.9V508.0M677.5 501.4V508.0M678.5 502.9V508.0M679.5 504.5V508.0M680.5 506.9V508.0M681.5 508.0V511.1M682.5 508.0V516.1M683.5 508.0V521.1M684.5 508.0V526.2M685.5 508.0V531.2M686.5 508.0V535.9M687.5 508.0V540.3M688.5 508.0V543.5M689.5 508.0V544.0M690.5 508.0V543.3M691.5 508.0V542.4M692.5 508.0V541.6M693.5 508.0V540.7M694.5 508.0V539.9M695.5 508.0V539.1M696.5 508.0V538.6M697.5 508.0V538.2M698.5 508.0V537.9M699.5 508.0V537.5M700.5 508.0V537.1M701.5 508.0V536.7M702.5 508.0V536.3M703.5 508.0V536.0M704.5 508.0V535.6M705.5 508.0V535.4M706.5 508.0V535.7M707.5 508.0V536.2M708.5 508.0V536.6M709.5 508.0V537.1M710.5 508.0V537.6M711.5 508.0V538.1M712.5 508.0V538.6M713.5 508.0V539.0M714.5 508.0V539.5M715.5 508.0V539.6M716.5 508.0V539.0M717.5 508.0V538.0M718.5 508.0V537.0M719.5 508.0V536.0M720.5 508.0V534.7M721.5 508.0V533.0M722.5 508.0V531.0M723.5 508.0V529.0M724.5 508.0V527.0M725.5 508.0V524.6M726.5 508.0V521.6M727.5 508.0V518.2M728.5 508.0V514.8M729.5 508.0V511.5M730.5 508.0V508.8M731.5 507.6V508.0M732.5 507.2V508.0M733.5 506.7V508.0M734.5 506.3V508.0M735.5 505.8V508.0M736.5 505.1V508.0M737.5 504.3V508.0M738.5 503.6V508.0M739.5 502.8V508.0M740.5 501.9V508.0M741.5 501.0V508.0M742.5 500.0V508.0M743.5 499.0V508.0M744.5 498.1V508.0M745.5 497.8V508.0M746.5 498.8V508.0M747.5 500.6V508.0M748.5 502.3V508.0M749.5 504.1V508.0M750.5 505.6V508.0M751.5 506.5V508.0M752.5 507.1V508.0M753.5 507.6V508.0M754.5 508.0V508.2M755.5 508.0V508.8M756.5 508.0V509.4M757.5 508.0V510.0M758.5 508.0V510.5M759.5 508.0V511.1M760.5 508.0V511.4M761.5 508.0V511.1M762.5 508.0V510.6M763.5 508.0V510.0M764.5 508.0V509.5M765.5 508.0V508.9M766.5 508.0V508.3M767.5 507.7V508.0M768.5 506.8V508.0M769.5 505.8V508.0M770.5 504.9V508.0M771.5 503.9V508.0M772.5 502.9V508.0M773.5 501.9V508.0M774.5 501.0V508.0M775.5 499.8V508.0M776.5 498.4V508.0M777.5 496.9V508.0M778.5 495.3V508.0M779.5 493.7V508.0M780.5 491.8V508.0M781.5 489.2V508.0M782.5 486.3V508.0M783.5 483.4V508.0M784.5 480.6V508.0M785.5 479.6V508.0M786.5 482.6V508.0M787.5 487.3V508.0M788.5 492.2V508.0M789.5 497.0V508.0M790.5 501.0V508.0M791.5 503.0V508.0M792.5 504.2V508.0M793.5 505.3V508.0M794.5 506.5V508.0M795.5 507.6V508.0M796.5 508.0V508.7M797.5 508.0V509.7M798.5 508.0V510.4M799.5 508.0V511.1M800.5 508.0V511.8M801.5 508.0V512.4M802.5 508.0V513.0M803.5 508.0V513.1M804.5 508.0V512.1M805.5 508.0V510.6M806.5 508.0V509.0M807.5 507.5V508.0M808.5 505.9V508.0M809.5 504.2V508.0M810.5 502.5V508.0M811.5 500.8V508.0M812.5 499.1V508.0M813.5 497.4V508.0M814.5 495.7V508.0M815.5 493.5V508.0M816.5 490.5V508.0M817.5 487.0V508.0M818.5 483.5V508.0M819.5 480.0V508.0M820.5 477.0V508.0M821.5 475.0V508.0M822.5 473.4V508.0M823.5 471.8V508.0M824.5 470.3V508.0M825.5 468.9V508.0M826.5 468.1V508.0M827.5 467.4V508.0M828.5 467.3V508.0M829.5 468.1V508.0M830.5 469.5V508.0M831.5 470.9V508.0M832.5 472.3V508.0M833.5 473.7V508.0M834.5 475.1V508.0M835.5 476.8V508.0M836.5 478.9V508.0M837.5 481.2V508.0M838.5 483.6V508.0M839.5 485.9V508.0M840.5 487.5V508.0M841.5 487.7V508.0M842.5 487.3V508.0M843.5 486.8V508.0M844.5 486.3V508.0M845.5 485.8V508.0M846.5 485.3V508.0M847.5 484.8V508.0M848.5 484.6V508.0M849.5 484.9V508.0M850.5 485.4V508.0M851.5 486.0V508.0M852.5 486.6V508.0M853.5 487.2V508.0M854.5 487.7V508.0M855.5 488.1V508.0M856.5 488.1V508.0M857.5 487.9V508.0M858.5 487.7V508.0M859.5 487.5V508.0M860.5 487.3V508.0M861.5 487.1V508.0M862.5 486.9V508.0M863.5 486.7V508.0M864.5 486.5V508.0M865.5 486.7V508.0M866.5 487.4V508.0M867.5 488.5V508.0M868.5 489.6V508.0M869.5 490.7V508.0M870.5 491.8V508.0M871.5 493.0V508.0M872.5 494.7V508.0M873.5 497.6V508.0M874.5 501.1V508.0M875.5 504.6V508.0M876.5 508.0V508.1M877.5 508.0V511.3M878.5 508.0V513.6M879.5 508.0V515.6M880.5 508.0V517.6M881.5 508.0V519.5M882.5 508.0V521.2M883.5 508.0V522.2M884.5 508.0V523.0M885.5 508.0V523.7M886.5 508.0V524.4M887.5 508.0V525.2M888.5 508.0V525.9M889.5 508.0V526.7M890.5 508.0V527.4M891.5 508.0V528.2M892.5 508.0V529.0M893.5 508.0V529.8M894.5 508.0V530.6M895.5 508.0V531.4M896.5 508.0V532.2M897.5 508.0V533.4M898.5 508.0V535.8M899.5 508.0V540.1M900.5 508.0V545.2M901.5 508.0V550.7M902.5 508.0V556.2M903.5 508.0V560.1M904.5 508.0V560.5M905.5 508.0V559.3M906.5 508.0V557.5M907.5 508.0V554.7M908.5 508.0V551.5M909.5 508.0V548.3M910.5 508.0V545.4M911.5 508.0V543.4M912.5 508.0V541.8M913.5 508.0V540.2M914.5 508.0V538.6M915.5 508.0V536.4M916.5 508.0V533.1M917.5 508.0V529.2M918.5 508.0V525.4M919.5 508.0V521.5M920.5 508.0V518.2M921.5 508.0V516.1M922.5 508.0V514.5M923.5 508.0V512.9M924.5 508.0V511.4M925.5 508.0V509.9M926.5 508.0V508.4M927.5 507.1V508.0M928.5 505.7V508.0M929.5 504.4V508.0M930.5 503.5V508.0M931.5 503.4V508.0M932.5 503.8V508.0M933.5 504.1V508.0M934.5 504.5V508.0M935.5 504.9V508.0M936.5 505.3V508.0M937.5 505.7V508.0M938.5 506.0V508.0M939.5 506.5V508.0M940.5 507.8V508.0M941.5 508.0V511.1M942.5 508.0V515.1M943.5 508.0V517.7M944.5 508.0V517.0M945.5 508.0V514.8M946.5 508.0V512.5M947.5 508.0V510.2M948.5 508.0V508.4M949.5 507.7V508.0M950.5 507.5V508.0M951.5 507.4V508.0M952.5 507.2V508.0M953.5 507.1V508.0M954.5 506.9V508.0M955.5 506.7V508.0M956.5 506.2V508.0M957.5 505.7V508.0M958.5 505.1V508.0M959.5 504.6V508.0M960.5 504.0V508.0M961.5 503.5V508.0M962.5 503.4V508.0M963.5 504.2V508.0M964.5 505.3V508.0M965.5 506.6V508.0M966.5 508.0V508.7M967.5 508.0V512.4M968.5 508.0V516.9M969.5 508.0V521.2M970.5 508.0V525.0M971.5 508.0V528.5M972.5 508.0V532.0M973.5 508.0V535.4M974.5 508.0V538.0" stroke="#c0c0c0" stroke-width="1" fill="none"/></g>
<polyline points="5.5,499.5 6.5,499.1 7.5,498.5 8.5,497.8 9.5,497.2 10.5,496.6 11.5,496.1 12.5,496.0 13.5,496.1 14.5,496.6 15.5,497.1 16.5,497.8 17.5,498.5 18.5,499.2 19.5,499.9 20.5,500.5 21.5,500.9 22.5,501.1 23.5,501.0 24.5,500.6 25.5,500.1 26.5,499.5 27.5,498.9 28.5,498.3 29.5,497.7 30.5,497.1 31.5,496.5 32.5,495.9 33.5,495.4 34.5,495.2 35.5,495.4 36.5,496.1 37.5,497.1 38.5,498.4 39.5,499.8 40.5,501.4 41.5,503.2 42.5,505.5 43.5,508.3 44.5,511.5 45.5,514.9 46.5,518.5 47.5,522.1 48.5,525.6 49.5,528.9 50.5,531.9 51.5,534.4 52.5,536.5 53.5,537.9 54.5,538.7 55.5,538.6 56.5,538.0 57.5,536.9 58.5,535.5 59.5,533.8 60.5,531.7 61.5,529.3 62.5,526.5 63.5,523.5 64.5,520.5 65.5,517.5 66.5,514.8 67.5,512.4 68.5,510.5 69.5,508.9 70.5,507.6 71.5,506.4 72.5,505.2 73.5,504.1 74.5,502.9 75.5,501.8 76.5,500.6 77.5,499.5 78.5,498.4 79.5,497.4 80.5,496.5 81.5,495.8 82.5,495.3 83.5,494.8 84.5,494.4 85.5,494.0 86.5,493.6 87.5,493.2 88.5,492.8 89.5,492.3 90.5,491.8 91.5,491.1 92.5,490.5 93.5,489.7 94.5,489.0 95.5,488.3 96.5,487.6 97.5,487.1 98.5,486.7 99.5,486.6 100.5,486.6 101.5,486.8 102.5,487.0 103.5,487.3 104.5,487.5 105.5,487.8 106.5,488.0 107.5,488.2 108.5,488.3 109.5,488.2 110.5,487.7 111.5,486.9 112.5,485.7 113.5,484.2 114.5,482.7 115.5,481.3 116.5,479.9 117.5,478.8 118.5,477.8 119.5,477.1 120.5,476.6 121.5,476.1 122.5,475.8 123.5,475.7 124.5,476.0 125.5,476.8 126.5,478.0 127.5,479.4 128.5,481.0 129.5,482.8 130.5,484.9 131.5,487.3 132.5,489.9 133.5,492.6 134.5,495.4 135.5,498.0 136.5,500.5 137.5,502.4 138.5,503.9 139.5,505.0 140.5,505.8 141.5,506.5 142.5,507.1 143.5,507.7 144.5,508.1 145.5,508.4 146.5,508.4 147.5,508.3 148.5,508.1 149.5,507.8 150.5,507.4 151.5,506.9 152.5,506.1 153.5,505.0 154.5,503.6 155.5,502.1 156.5,500.5 157.5,498.9 158.5,497.5 159.5,496.4 160.5,495.7 161.5,495.5 162.5,495.9 163.5,496.5 164.5,497.2 165.5,498.0 166.5,498.8 167.5,499.6 168.5,500.3 169.5,501.0 170.5,501.4 171.5,501.8 172.5,501.9 173.5,502.0 174.5,502.0 175.5,502.0 176.5,502.2 177.5,502.4 178.5,503.0 179.5,503.9 180.5,505.0 181.5,506.3 182.5,507.7 183.5,509.2 184.5,510.8 185.5,512.5 186.5,514.4 187.5,516.4 188.5,518.4 189.5,520.5 190.5,522.4 191.5,523.8 192.5,524.6 193.5,524.7 194.5,524.1 195.5,523.2 196.5,522.0 197.5,520.8 198.5,519.6 199.5,518.4 200.5,517.4 201.5,516.4 202.5,515.6 203.5,514.9 204.5,514.2 205.5,513.6 206.5,513.2 207.5,513.1 208.5,513.3 209.5,513.9 210.5,514.6 211.5,515.4 212.5,516.2 213.5,517.1 214.5,517.9 215.5,518.8 216.5,519.6 217.5,520.5 218.5,521.3 219.5,522.1 220.5,522.8 221.5,523.5 222.5,524.1 223.5,524.7 224.5,525.2 225.5,525.7 226.5,525.9 227.5,525.9 228.5,525.5 229.5,524.8 230.5,524.0 231.5,523.0 232.5,522.0 233.5,521.1 234.5,520.3 235.5,519.8 236.5,519.5 237.5,519.4 238.5,519.4 239.5,519.5 240.5,519.7 241.5,519.9 242.5,520.2 243.5,520.5 244.5,520.8 245.5,521.1 246.5,521.3 247.5,521.6 248.5,521.8 249.5,522.0 250.5,522.0 251.5,521.8 252.5,521.5 253.5,521.1 254.5,520.7 255.5,520.2 256.5,519.7 257.5,519.3 258.5,518.8 259.5,518.4 260.5,517.9 261.5,517.4 262.5,517.0 263.5,516.5 264.5,516.1 265.5,515.7 266.5,515.2 267.5,514.8 268.5,514.4 269.5,514.1 270.5,513.7 271.5,513.3 272.5,512.9 273.5,512.5 274.5,512.1 275.5,511.7 276.5,511.3 277.5,511.0 278.5,510.6 279.5,510.2 280.5,509.8 281.5,509.5 282.5,509.2 283.5,508.8 284.5,508.5 285.5,508.2 286.5,507.9 287.5,507.5 288.5,507.2 289.5,506.9 290.5,506.6 291.5,506.5 292.5,506.5 293.5,506.8 294.5,507.2 295.5,507.7 296.5,508.3 297.5,508.9 298.5,509.5 299.5,510.1 300.5,510.7 301.5,511.3 302.5,511.9 303.5,512.3 304.5,512.6 305.5,512.6 306.5,512.2 307.5,511.6 308.5,510.7 309.5,509.8 310.5,508.8 311.5,507.8 312.5,506.8 313.5,505.9 314.5,504.9 315.5,503.9 316.5,502.9 317.5,502.0 318.5,501.0 319.5,500.1 320.5,499.3 321.5,498.5 322.5,497.8 323.5,497.2 324.5,496.6 325.5,496.0 326.5,495.4 327.5,494.8 328.5,494.3 329.5,493.8 330.5,493.5 331.5,493.3 332.5,493.3 333.5,493.4 334.5,493.5 335.5,493.7 336.5,493.9 337.5,494.3 338.5,495.0 339.5,496.0 340.5,497.3 341.5,498.8 342.5,500.3 343.5,501.9 344.5,503.5 345.5,505.2 346.5,506.9 347.5,508.6 348.5,510.4 349.5,512.2 350.5,513.9 351.5,515.5 352.5,516.9 353.5,518.1 354.5,519.1 355.5,519.9 356.5,520.7 357.5,521.5 358.5,522.3 359.5,523.1 360.5,523.8 361.5,524.6 362.5,525.5 363.5,526.3 364.5,527.1 365.5,528.0 366.5,528.8 367.5,529.7 368.5,530.4 369.5,530.9 370.5,531.1 371.5,530.9 372.5,530.3 373.5,529.5 374.5,528.7 375.5,527.8 376.5,526.9 377.5,525.9 378.5,525.0 379.5,524.1 380.5,523.2 381.5,522.3 382.5,521.4 383.5,520.5 384.5,519.5 385.5,518.5 386.5,517.6 387.5,516.6 388.5,515.6 389.5,514.7 390.5,513.7 391.5,512.7 392.5,511.7 393.5,510.5 394.5,509.1 395.5,507.3 396.5,505.0 397.5,502.2 398.5,499.2 399.5,496.1 400.5,493.0 401.5,489.9 402.5,487.1 403.5,484.5 404.5,482.4 405.5,480.5 406.5,478.8 407.5,477.3 408.5,475.8 409.5,474.5 410.5,473.4 411.5,472.6 412.5,472.0 413.5,471.5 414.5,471.2 415.5,470.8 416.5,470.6 417.5,470.5 418.5,470.6 419.5,471.1 420.5,471.8 421.5,472.7 422.5,473.6 423.5,474.8 424.5,476.1 425.5,477.8 426.5,479.8 427.5,482.3 428.5,484.9 429.5,487.6 430.5,490.2 431.5,492.7 432.5,494.8 433.5,496.4 434.5,497.8 435.5,498.9 436.5,500.0 437.5,501.0 438.5,501.9 439.5,503.0 440.5,504.1 441.5,505.4 442.5,506.9 443.5,508.8 444.5,510.9 445.5,513.3 446.5,515.7 447.5,518.1 448.5,520.5 449.5,522.8 450.5,525.1 451.5,527.2 452.5,529.2 453.5,531.0 454.5,532.5 455.5,533.4 456.5,533.8 457.5,533.7 458.5,533.4 459.5,532.8 460.5,532.3 461.5,531.7 462.5,531.1 463.5,530.5 464.5,530.0 465.5,529.5 466.5,529.1 467.5,528.7 468.5,528.3 469.5,528.0 470.5,527.7 471.5,527.4 472.5,527.0 473.5,526.7 474.5,526.4 475.5,526.0 476.5,525.6 477.5,525.1 478.5,524.6 479.5,523.9 480.5,523.2 481.5,522.5 482.5,521.8 483.5,521.0 484.5,520.1 485.5,519.0 486.5,517.8 487.5,516.3 488.5,514.7 489.5,513.0 490.5,511.0 491.5,508.9 492.5,506.5 493.5,504.1 494.5,501.7 495.5,499.4 496.5,497.6 497.5,496.5 498.5,496.1 499.5,496.4 500.5,497.2 501.5,498.3 502.5,499.8 503.5,501.8 504.5,504.3 505.5,507.3 506.5,510.4 507.5,513.5 508.5,516.3 509.5,518.7 510.5,520.7 511.5,522.3 512.5,523.6 513.5,524.7 514.5,525.5 515.5,526.2 516.5,526.9 517.5,527.5 518.5,528.2 519.5,529.1 520.5,530.2 521.5,531.5 522.5,533.1 523.5,534.8 524.5,536.6 525.5,538.4 526.5,540.0 527.5,541.2 528.5,541.9 529.5,541.8 530.5,541.2 531.5,540.1 532.5,538.9 533.5,537.6 534.5,536.2 535.5,534.7 536.5,533.0 537.5,531.2 538.5,529.3 539.5,527.4 540.5,525.5 541.5,523.6 542.5,521.9 543.5,520.4 544.5,519.1 545.5,518.0 546.5,517.1 547.5,516.3 548.5,515.5 549.5,514.8 550.5,514.3 551.5,514.0 552.5,513.8 553.5,513.7 554.5,513.7 555.5,513.8 556.5,514.1 557.5,514.6 558.5,515.3 559.5,516.3 560.5,517.4 561.5,518.6 562.5,519.8 563.5,521.1 564.5,522.4 565.5,523.9 566.5,525.4 567.5,527.0 568.5,528.6 569.5,529.9 570.5,530.7 571.5,531.1 572.5,531.1 573.5,530.8 574.5,530.3 575.5,529.9 576.5,529.5 577.5,529.3 578.5,529.2 579.5,529.5 580.5,530.0 581.5,530.6 582.5,531.3 583.5,532.1 584.5,532.8 585.5,533.5 586.5,534.3 587.5,535.0 588.5,535.7 589.5,536.5 590.5,537.3 591.5,538.1 592.5,538.9 593.5,539.7 594.5,540.5 595.5,541.2 596.5,541.7 597.5,541.9 598.5,541.8 599.5,541.4 600.5,540.8 601.5,540.1 602.5,539.3 603.5,538.5 604.5,537.6 605.5,536.4 606.5,535.0 607.5,533.4 608.5,531.7 609.5,529.9 610.5,528.1 611.5,526.4 612.5,524.9 613.5,523.7 614.5,522.9 615.5,522.4 616.5,522.1 617.5,521.9 618.5,521.7 619.5,521.3 620.5,520.7 621.5,519.8 622.5,518.7 623.5,517.4 624.5,516.1 625.5,514.8 626.5,513.6 627.5,512.5 628.5,511.7 629.5,511.3 630.5,511.1 631.5,511.1 632.5,511.2 633.5,511.2 634.5,511.3 635.5,511.2 636.5,510.8 637.5,509.9 638.5,508.5 639.5,506.6 640.5,504.3 641.5,501.9 642.5,499.6 643.5,497.3 644.5,495.3 645.5,493.8 646.5,492.8 647.5,492.2 648.5,491.9 649.5,491.7 650.5,491.5 651.5,491.3 652.5,490.8 653.5,490.0 654.5,488.9 655.5,487.4 656.5,485.7 657.5,484.0 658.5,482.4 659.5,481.2 660.5,480.6 661.5,480.6 662.5,481.2 663.5,482.2 664.5,483.5 665.5,485.1 666.5,487.0 667.5,489.0 668.5,491.1 669.5,493.0 670.5,494.4 671.5,495.3 672.5,495.7 673.5,495.9 674.5,496.0 675.5,496.2 676.5,496.6 677.5,497.4 678.5,498.6 679.5,500.2 680.5,502.0 681.5,504.2 682.5,506.7 683.5,509.7 684.5,513.4 685.5,517.6 686.5,522.1 687.5,526.7 688.5,531.0 689.5,534.9 690.5,537.9 691.5,539.9 692.5,541.1 693.5,541.7 694.5,542.1 695.5,542.3 696.5,542.4 697.5,542.2 698.5,541.8 699.5,541.1 700.5,540.3 701.5,539.5 702.5,538.6 703.5,537.7 704.5,536.9 705.5,536.1 706.5,535.6 707.5,535.3 708.5,535.4 709.5,535.8 710.5,536.4 711.5,537.1 712.5,537.8 713.5,538.5 714.5,539.0 715.5,539.4 716.5,539.5 717.5,539.5 718.5,539.4 719.5,539.2 720.5,539.0 721.5,538.8 722.5,538.5 723.5,538.2 724.5,537.6 725.5,536.7 726.5,535.3 727.5,533.5 728.5,531.4 729.5,529.1 730.5,526.4 731.5,523.5 732.5,520.3 733.5,517.1 734.5,514.1 735.5,511.6 736.5,509.7 737.5,508.3 738.5,507.2 739.5,506.3 740.5,505.4 741.5,504.5 742.5,503.7 743.5,502.9 744.5,502.3 745.5,502.0 746.5,501.9 747.5,502.1 748.5,502.5 749.5,503.0 750.5,503.5 751.5,503.9 752.5,504.4 753.5,504.9 754.5,505.5 755.5,506.1 756.5,506.7 757.5,507.4 758.5,508.1 759.5,508.8 760.5,509.5 761.5,510.1 762.5,510.6 763.5,510.8 764.5,510.7 765.5,510.4 766.5,510.0 767.5,509.5 768.5,508.9 769.5,508.4 770.5,507.8 771.5,507.2 772.5,506.7 773.5,506.0 774.5,505.3 775.5,504.5 776.5,503.5 777.5,502.4 778.5,501.1 779.5,499.8 780.5,498.5 781.5,497.2 782.5,495.8 783.5,494.3 784.5,492.7 785.5,491.2 786.5,489.9 787.5,488.9 788.5,488.5 789.5,488.8 790.5,489.7 791.5,491.1 792.5,492.7 793.5,494.5 794.5,496.5 795.5,498.6 796.5,500.8 797.5,503.0 798.5,505.1 799.5,507.1 800.5,508.8 801.5,510.1 802.5,511.1 803.5,511.9 804.5,512.3 805.5,512.2 806.5,511.7 807.5,510.7 808.5,509.5 809.5,508.1 810.5,506.6 811.5,505.0 812.5,503.1 813.5,500.9 814.5,498.5 815.5,495.9 816.5,493.2 817.5,490.5 818.5,487.9 819.5,485.5 820.5,483.3 821.5,481.3 822.5,479.6 823.5,478.0 824.5,476.5 825.5,475.1 826.5,473.7 827.5,472.6 828.5,471.8 829.5,471.3 830.5,471.2 831.5,471.4 832.5,471.8 833.5,472.5 834.5,473.6 835.5,474.8 836.5,476.3 837.5,477.8 838.5,479.3 839.5,480.7 840.5,482.0 841.5,483.2 842.5,484.3 843.5,485.3 844.5,486.3 845.5,487.1 846.5,487.9 847.5,488.4 848.5,488.7 849.5,488.7 850.5,488.6 851.5,488.4 852.5,488.3 853.5,488.1 854.5,487.9 855.5,487.7 856.5,487.5 857.5,487.3 858.5,487.1 859.5,486.9 860.5,486.8 861.5,486.6 862.5,486.4 863.5,486.2 864.5,486.0 865.5,485.9 866.5,485.8 867.5,485.8 868.5,486.1 869.5,486.6 870.5,487.4 871.5,488.3 872.5,489.3 873.5,490.6 874.5,492.2 875.5,494.5 876.5,497.5 877.5,501.1 878.5,504.9 879.5,508.5 880.5,511.7 881.5,514.2 882.5,516.2 883.5,517.8 884.5,519.3 885.5,520.6 886.5,521.8 887.5,522.9 888.5,523.7 889.5,524.4 890.5,524.9 891.5,525.5 892.5,526.0 893.5,526.7 894.5,527.6 895.5,529.0 896.5,530.8 897.5,533.1 898.5,535.5 899.5,538.0 900.5,540.4 901.5,542.6 902.5,544.6 903.5,546.5 904.5,548.3 905.5,550.1 906.5,551.7 907.5,553.0 908.5,553.7 909.5,553.8 910.5,553.4 911.5,552.4 912.5,551.0 913.5,549.2 914.5,546.7 915.5,543.9 916.5,540.7 917.5,537.5 918.5,534.2 919.5,531.2 920.5,528.4 921.5,525.9 922.5,523.6 923.5,521.6 924.5,519.6 925.5,517.6 926.5,515.7 927.5,514.0 928.5,512.4 929.5,511.0 930.5,509.9 931.5,508.8 932.5,507.9 933.5,507.0 934.5,506.2 935.5,505.7 936.5,505.4 937.5,505.4 938.5,505.6 939.5,505.9 940.5,506.4 941.5,507.2 942.5,508.1 943.5,509.2 944.5,510.2 945.5,511.2 946.5,512.0 947.5,512.4 948.5,512.5 949.5,512.2 950.5,511.8 951.5,511.2 952.5,510.6 953.5,510.0 954.5,509.5 955.5,509.0 956.5,508.6 957.5,508.3 958.5,508.0 959.5,507.7 960.5,507.4 961.5,507.3 962.5,507.3 963.5,507.5 964.5,508.0 965.5,508.9 966.5,510.3 967.5,511.9 968.5,513.8 969.5,515.9 970.5,518.1 971.5,520.4 972.5,522.7 973.5,524.8 974.5,526.4" stroke="#ff0000" stroke-width="1" fill="none" shape-rendering="crispEdges"/>
<polyline points="5.5,498.3 6.5,502.9 7.5,498.8 8.5,504.4 9.5,497.3 10.5,492.2 11.5,506.7 12.5,511.5 13.5,515.7 14.5,523.1 15.5,519.2 16.5,511.0 17.5,506.8 18.5,505.0 19.5,508.2 20.5,510.5 21.5,506.6 22.5,504.2 23.5,502.2 24.5,504.6 25.5,504.2 26.5,502.5 27.5,502.2 28.5,497.1 29.5,498.4 30.5,498.5 31.5,499.4 32.5,494.5 33.5,494.1 34.5,488.9 35.5,491.4 36.5,491.0 37.5,496.0 38.5,507.0 39.5,507.2 40.5,522.1 41.5,530.1 42.5,536.4 43.5,537.4 44.5,537.1 45.5,537.9 46.5,533.8 47.5,531.3 48.5,530.2 49.5,528.3 50.5,530.0 51.5,527.6 52.5,531.8 53.5,523.8 54.5,523.7 55.5,523.5 56.5,516.7 57.5,523.6 58.5,509.9 59.5,510.2 60.5,506.6 61.5,509.0 62.5,496.3 63.5,507.1 64.5,507.4 65.5,512.2 66.5,515.0 67.5,515.9 68.5,509.1 69.5,508.7 70.5,507.8 71.5,511.8 72.5,500.3 73.5,508.6 74.5,508.3 75.5,503.8 76.5,504.7 77.5,502.3 78.5,507.4 79.5,504.0 80.5,501.7 81.5,506.0 82.5,510.6 83.5,515.4 84.5,510.6 85.5,515.5 86.5,503.1 87.5,493.6 88.5,499.2 89.5,497.9 90.5,496.9 91.5,496.0 92.5,496.3 93.5,498.0 94.5,500.5 95.5,497.3 96.5,497.2 97.5,504.0 98.5,501.7 99.5,497.3 100.5,506.1 101.5,501.8 102.5,495.8 103.5,491.7 104.5,493.7 105.5,489.7 106.5,489.0 107.5,488.5 108.5,490.9 109.5,496.2 110.5,493.3 111.5,489.2 112.5,493.8 113.5,492.6 114.5,494.0 115.5,494.9 116.5,490.7 117.5,489.5 118.5,489.0 119.5,485.4 120.5,489.2 121.5,493.5 122.5,492.1 123.5,491.8 124.5,492.8 125.5,492.7 126.5,499.1 127.5,506.9 128.5,512.7 129.5,520.4 130.5,524.2 131.5,525.6 132.5,522.3 133.5,515.6 134.5,508.3 135.5,510.6 136.5,515.0 137.5,510.9 138.5,510.9 139.5,510.9 140.5,514.4 141.5,510.9 142.5,515.7 143.5,513.2 144.5,516.3 145.5,514.6 146.5,510.3 147.5,503.5 148.5,501.8 149.5,500.1 150.5,499.9 151.5,496.1 152.5,490.2 153.5,492.4 154.5,494.1 155.5,491.0 156.5,489.2 157.5,488.7 158.5,496.3 159.5,500.6 160.5,500.8 161.5,507.9 162.5,510.4 163.5,513.7 164.5,517.4 165.5,515.8 166.5,509.9 167.5,509.7 168.5,509.6 169.5,505.2 170.5,504.5 171.5,505.3 172.5,497.3 173.5,504.2 174.5,508.4 175.5,510.3 176.5,507.3 177.5,513.0 178.5,512.6 179.5,518.7 180.5,522.1 181.5,523.7 182.5,523.3 183.5,525.8 184.5,532.4 185.5,530.9 186.5,532.4 187.5,531.4 188.5,527.7 189.5,533.2 190.5,526.5 191.5,529.7 192.5,517.4 193.5,513.0 194.5,519.9 195.5,519.0 196.5,513.5 197.5,510.8 198.5,502.6 199.5,502.2 200.5,498.5 201.5,505.1 202.5,513.1 203.5,515.9 204.5,520.9 205.5,522.4 206.5,527.0 207.5,533.0 208.5,531.2 209.5,534.4 210.5,528.2 211.5,533.9 212.5,526.2 213.5,529.6 214.5,524.4 215.5,529.3 216.5,528.0 217.5,529.8 218.5,532.5 219.5,530.6 220.5,530.4 221.5,529.0 222.5,539.2 223.5,530.6 224.5,525.4 225.5,522.0 226.5,523.1 227.5,509.1 228.5,507.9 229.5,508.5 230.5,512.4 231.5,507.9 232.5,512.2 233.5,517.8 234.5,522.2 235.5,524.4 236.5,518.2 237.5,519.9 238.5,520.2 239.5,517.1 240.5,516.7 241.5,524.4 242.5,526.0 243.5,526.6 244.5,532.0 245.5,528.3 246.5,533.3 247.5,534.2 248.5,529.4 249.5,526.4 250.5,521.4 251.5,517.1 252.5,512.6 253.5,517.9 254.5,513.1 255.5,516.4 256.5,516.3 257.5,514.1 258.5,517.4 259.5,513.9 260.5,519.3 261.5,515.3 262.5,515.9 263.5,519.7 264.5,523.2 265.5,525.4 266.5,527.1 267.5,525.6 268.5,524.5 269.5,529.7 270.5,531.3 271.5,519.4 272.5,515.7 273.5,506.0 274.5,506.9 275.5,514.5 276.5,514.6 277.5,519.3 278.5,521.8 279.5,515.9 280.5,518.2 281.5,513.8 282.5,517.8 283.5,513.6 284.5,514.3 285.5,508.8 286.5,510.0 287.5,512.9 288.5,511.1 289.5,503.4 290.5,508.6 291.5,508.1 292.5,503.0 293.5,505.6 294.5,497.8 295.5,511.3 296.5,527.0 297.5,540.3 298.5,537.2 299.5,527.3 300.5,520.8 301.5,522.9 302.5,515.6 303.5,515.2 304.5,509.3 305.5,512.0 306.5,512.0 307.5,511.0 308.5,508.9 309.5,508.2 310.5,506.8 311.5,508.0 312.5,507.6 313.5,507.7 314.5,504.9 315.5,510.5 316.5,506.7 317.5,508.7 318.5,508.6 319.5,489.5 320.5,488.8 321.5,499.1 322.5,498.8 323.5,502.3 324.5,504.3 325.5,508.0 326.5,504.3 327.5,506.5 328.5,505.7 329.5,506.7 330.5,500.2 331.5,507.6 332.5,507.6 333.5,501.7 334.5,503.1 335.5,505.4 336.5,507.8 337.5,506.8 338.5,510.7 339.5,507.8 340.5,504.6 341.5,505.1 342.5,509.4 343.5,518.2 344.5,533.4 345.5,534.0 346.5,532.5 347.5,533.0 348.5,529.3 349.5,528.6 350.5,526.4 351.5,525.5 352.5,522.2 353.5,524.0 354.5,522.4 355.5,520.7 356.5,526.8 357.5,530.5 358.5,530.5 359.5,536.9 360.5,538.5 361.5,540.7 362.5,538.0 363.5,531.3 364.5,533.1 365.5,530.1 366.5,528.0 367.5,524.1 368.5,525.0 369.5,519.8 370.5,520.3 371.5,515.0 372.5,508.9 373.5,511.8 374.5,516.7 375.5,507.7 376.5,514.0 377.5,510.7 378.5,511.0 379.5,512.5 380.5,513.5 381.5,510.6 382.5,513.3 383.5,514.9 384.5,513.6 385.5,506.8 386.5,509.7 387.5,509.1 388.5,514.1 389.5,507.0 390.5,512.3 391.5,510.1 392.5,518.4 393.5,523.1 394.5,514.5 395.5,508.3 396.5,508.8 397.5,506.9 398.5,499.3 399.5,496.0 400.5,485.7 401.5,489.4 402.5,492.3 403.5,492.8 404.5,496.7 405.5,489.7 406.5,485.0 407.5,491.5 408.5,489.7 409.5,491.7 410.5,493.1 411.5,492.1 412.5,493.5 413.5,492.8 414.5,483.4 415.5,485.3 416.5,490.7 417.5,484.2 418.5,494.8 419.5,500.3 420.5,506.7 421.5,512.9 422.5,513.2 423.5,510.4 424.5,513.7 425.5,508.8 426.5,510.2 427.5,515.7 428.5,513.4 429.5,509.2 430.5,511.9 431.5,511.5 432.5,513.4 433.5,512.2 434.5,510.0 435.5,509.9 436.5,511.9 437.5,513.1 438.5,519.0 439.5,521.6 440.5,522.4 441.5,523.3 442.5,524.7 443.5,531.1 444.5,531.8 445.5,536.6 446.5,530.9 447.5,532.8 448.5,537.9 449.5,531.6 450.5,528.5 451.5,531.2 452.5,536.4 453.5,536.4 454.5,530.9 455.5,529.0 456.5,528.8 457.5,525.6 458.5,526.9 459.5,525.5 460.5,521.1 461.5,522.0 462.5,522.3 463.5,522.4 464.5,523.0 465.5,530.0 466.5,535.4 467.5,531.6 468.5,528.7 469.5,529.6 470.5,526.5 471.5,523.2 472.5,527.4 473.5,520.3 474.5,518.6 475.5,517.2 476.5,517.6 477.5,520.3 478.5,523.9 479.5,527.8 480.5,527.2 481.5,526.1 482.5,523.0 483.5,518.2 484.5,508.9 485.5,503.5 486.5,499.6 487.5,496.8 488.5,494.1 489.5,491.1 490.5,491.5 491.5,493.5 492.5,492.1 493.5,494.1 494.5,504.5 495.5,504.5 496.5,513.0 497.5,517.8 498.5,527.1 499.5,527.8 500.5,529.3 501.5,530.8 502.5,532.4 503.5,532.9 504.5,528.2 505.5,532.9 506.5,528.2 507.5,516.5 508.5,515.3 509.5,518.1 510.5,514.3 511.5,518.3 512.5,521.3 513.5,523.1 514.5,527.8 515.5,525.9 516.5,529.5 517.5,532.6 518.5,535.8 519.5,535.7 520.5,536.0 521.5,539.9 522.5,534.3 523.5,542.6 524.5,538.8 525.5,534.0 526.5,534.1 527.5,528.8 528.5,525.8 529.5,528.7 530.5,526.7 531.5,527.7 532.5,520.9 533.5,515.9 534.5,513.3 535.5,517.8 536.5,513.8 537.5,510.6 538.5,508.3 539.5,506.9 540.5,508.6 541.5,513.5 542.5,518.7 543.5,521.9 544.5,522.3 545.5,522.0 546.5,519.8 547.5,514.5 548.5,516.3 549.5,519.9 550.5,517.7 551.5,518.4 552.5,513.0 553.5,517.4 554.5,514.5 555.5,511.4 556.5,510.0 557.5,514.9 558.5,530.2 559.5,531.1 560.5,539.9 561.5,537.0 562.5,536.5 563.5,541.1 564.5,533.7 565.5,536.9 566.5,529.4 567.5,527.5 568.5,522.5 569.5,524.1 570.5,513.9 571.5,522.7 572.5,522.1 573.5,526.3 574.5,525.7 575.5,531.3 576.5,531.5 577.5,532.5 578.5,531.7 579.5,532.1 580.5,533.1 581.5,529.1 582.5,525.9 583.5,525.8 584.5,531.8 585.5,530.7 586.5,535.0 587.5,533.7 588.5,531.0 589.5,536.5 590.5,541.0 591.5,535.3 592.5,531.5 593.5,530.6 594.5,534.8 595.5,531.0 596.5,530.3 597.5,532.7 598.5,530.8 599.5,530.3 600.5,527.9 601.5,524.1 602.5,523.1 603.5,520.4 604.5,518.6 605.5,512.7 606.5,515.0 607.5,516.3 608.5,515.9 609.5,517.6 610.5,519.7 611.5,518.2 612.5,518.1 613.5,521.8 614.5,531.7 615.5,525.7 616.5,519.6 617.5,512.7 618.5,510.9 619.5,516.2 620.5,510.6 621.5,507.7 622.5,507.3 623.5,503.6 624.5,506.7 625.5,506.6 626.5,508.1 627.5,512.2 628.5,514.4 629.5,518.4 630.5,521.2 631.5,518.3 632.5,509.5 633.5,508.6 634.5,500.8 635.5,495.9 636.5,499.0 637.5,499.6 638.5,495.2 639.5,497.9 640.5,500.8 641.5,499.4 642.5,497.4 643.5,505.4 644.5,508.9 645.5,512.8 646.5,509.6 647.5,507.1 648.5,504.9 649.5,505.6 650.5,501.2 651.5,498.5 652.5,493.3 653.5,495.9 654.5,491.8 655.5,492.7 656.5,484.0 657.5,487.9 658.5,495.7 659.5,502.5 660.5,515.0 661.5,515.5 662.5,515.6 663.5,516.1 664.5,519.4 665.5,514.4 666.5,510.7 667.5,503.5 668.5,505.3 669.5,505.9 670.5,505.0 671.5,506.7 672.5,504.1 673.5,511.3 674.5,509.2 675.5,515.5 676.5,515.6 677.5,517.3 678.5,522.6 679.5,525.4 680.5,524.5 681.5,529.4 682.5,534.5 683.5,533.0 684.5,529.9 685.5,532.7 686.5,531.5 687.5,532.6 688.5,534.9 689.5,533.9 690.5,532.3 691.5,527.1 692.5,530.8 693.5,529.1 694.5,527.3 695.5,527.6 696.5,529.7 697.5,518.6 698.5,513.0 699.5,516.0 700.5,509.7 701.5,517.7 702.5,515.1 703.5,518.1 704.5,524.6 705.5,528.3 706.5,527.6 707.5,527.8 708.5,526.5 709.5,525.7 710.5,526.5 711.5,531.1 712.5,530.8 713.5,529.1 714.5,529.9 715.5,531.8 716.5,533.4 717.5,530.3 718.5,530.0 719.5,531.3 720.5,538.2 721.5,533.2 722.5,535.3 723.5,522.9 724.5,523.2 725.5,513.0 726.5,508.0 727.5,506.3 728.5,505.0 729.5,506.8 730.5,508.1 731.5,508.4 732.5,507.1 733.5,515.7 734.5,511.7 735.5,512.2 736.5,515.1 737.5,512.1 738.5,509.7 739.5,507.9 740.5,511.1 741.5,502.9 742.5,501.0 743.5,506.7 744.5,504.1 745.5,509.4 746.5,518.1 747.5,517.8 748.5,521.8 749.5,522.6 750.5,517.0 751.5,519.2 752.5,516.4 753.5,513.9 754.5,515.0 755.5,515.2 756.5,514.1 757.5,513.0 758.5,517.0 759.5,518.2 760.5,516.5 761.5,514.2 762.5,510.8 763.5,509.7 764.5,507.7 765.5,510.0 766.5,511.5 767.5,510.8 768.5,511.6 769.5,513.4 770.5,517.9 771.5,514.9 772.5,513.1 773.5,512.7 774.5,504.1 775.5,507.6 776.5,507.0 777.5,515.6 778.5,511.8 779.5,509.0 780.5,507.2 781.5,509.7 782.5,499.1 783.5,502.2 784.5,498.2 785.5,498.3 786.5,502.1 787.5,517.4 788.5,513.2 789.5,511.2 790.5,519.2 791.5,515.4 792.5,515.6 793.5,514.5 794.5,512.8 795.5,511.2 796.5,515.4 797.5,522.2 798.5,521.1 799.5,520.2 800.5,524.4 801.5,517.5 802.5,521.0 803.5,516.3 804.5,511.5 805.5,513.1 806.5,511.7 807.5,507.7 808.5,507.2 809.5,507.8 810.5,507.8 811.5,500.2 812.5,492.4 813.5,502.2 814.5,496.2 815.5,493.0 816.5,493.1 817.5,489.2 818.5,490.9 819.5,483.3 820.5,483.1 821.5,481.8 822.5,490.1 823.5,487.9 824.5,492.1 825.5,494.7 826.5,488.6 827.5,490.8 828.5,494.5 829.5,494.0 830.5,494.1 831.5,497.5 832.5,499.0 833.5,495.3 834.5,496.1 835.5,498.7 836.5,498.3 837.5,498.2 838.5,495.0 839.5,504.7 840.5,503.1 841.5,506.1 842.5,507.9 843.5,505.1 844.5,502.4 845.5,496.8 846.5,496.7 847.5,496.6 848.5,492.0 849.5,496.5 850.5,499.9 851.5,502.4 852.5,511.0 853.5,502.7 854.5,502.2 855.5,502.1 856.5,498.2 857.5,491.8 858.5,488.7 859.5,495.5 860.5,489.7 861.5,491.0 862.5,492.5 863.5,491.3 864.5,485.7 865.5,484.0 866.5,491.4 867.5,493.3 868.5,497.3 869.5,501.3 870.5,504.5 871.5,510.1 872.5,518.1 873.5,526.6 874.5,525.2 875.5,524.6 876.5,523.5 877.5,531.5 878.5,527.1 879.5,526.1 880.5,530.0 881.5,529.2 882.5,529.2 883.5,523.7 884.5,517.8 885.5,521.5 886.5,523.7 887.5,522.8 888.5,526.5 889.5,525.4 890.5,520.9 891.5,530.4 892.5,535.0 893.5,539.6 894.5,541.1 895.5,531.5 896.5,534.9 897.5,533.6 898.5,522.4 899.5,528.6 900.5,532.1 901.5,532.3 902.5,536.0 903.5,538.3 904.5,537.4 905.5,532.9 906.5,525.0 907.5,530.1 908.5,529.6 909.5,523.7 910.5,526.2 911.5,528.9 912.5,518.4 913.5,518.1 914.5,516.4 915.5,517.8 916.5,514.4 917.5,509.3 918.5,514.4 919.5,510.8 920.5,512.6 921.5,516.8 922.5,508.7 923.5,507.6 924.5,510.6 925.5,508.0 926.5,509.3 927.5,508.1 928.5,515.7 929.5,511.2 930.5,509.4 931.5,509.3 932.5,510.6 933.5,505.8 934.5,509.3 935.5,513.5 936.5,508.9 937.5,511.6 938.5,511.9 939.5,511.0 940.5,519.4 941.5,523.8 942.5,529.9 943.5,519.9 944.5,515.2 945.5,507.9 946.5,508.6 947.5,509.7 948.5,516.5 949.5,514.7 950.5,515.5 951.5,516.5 952.5,522.1 953.5,514.9 954.5,513.1 955.5,518.4 956.5,516.9 957.5,514.1 958.5,509.8 959.5,510.7 960.5,512.0 961.5,510.7 962.5,511.0 963.5,516.9 964.5,516.7 965.5,519.1 966.5,524.1 967.5,519.1 968.5,531.3 969.5,529.8 970.5,532.8 971.5,531.4 972.5,530.6 973.5,524.8 974.5,531.6" stroke="#1e90ff" stroke-width="1" fill="none" shape-rendering="crispEdges"/>
<path d="M5 560L10 565H5Z" fill="#c8c8c8"/>
<text transform="translate(9.20 473.80) scale(0.955 1.0)" font-size="10" fill="#000" stroke="#000" stroke-width="0.1">MACD(12,26,9) -44.24 -28.93</text>
<path d="M1318 508.5H1321" stroke="#000" stroke-width="1" shape-rendering="crispEdges"/>
<text transform="translate(1321.50 471.00) scale(0.93 1.0)" font-size="10" fill="#000" stroke="#000" stroke-width="0.1">67.02</text>
<text transform="translate(1320.50 486.00) scale(0.93 1.0)" font-size="10" fill="#000" stroke="#000" stroke-width="0.1">80</text>
<text transform="translate(1321.50 512.00) scale(0.93 1.0)" font-size="10" fill="#000" stroke="#000" stroke-width="0.1">0.00</text>
<text transform="translate(1320.50 517.00) scale(0.93 1.0)" font-size="10" fill="#000" stroke="#000" stroke-width="0.1">50</text>
<text transform="translate(1320.50 548.50) scale(0.93 1.0)" font-size="10" fill="#000" stroke="#000" stroke-width="0.1">20</text>
<text transform="translate(1321.50 562.50) scale(0.93 1.0)" font-size="10" fill="#000" stroke="#000" stroke-width="0.1">-81.45</text>
<text transform="translate(4.00 578.00) scale(0.95 1.0)" font-size="9.6" fill="#000" stroke="#000" stroke-width="0.1">23 Aug 2023</text>
<text transform="translate(68.00 578.00) scale(0.95 1.0)" font-size="9.6" fill="#000" stroke="#000" stroke-width="0.1">25 Aug 20:00</text>
<text transform="translate(132.00 578.00) scale(0.95 1.0)" font-size="9.6" fill="#000" stroke="#000" stroke-width="0.1">30 Aug 13:00</text>
<text transform="translate(196.00 578.00) scale(0.95 1.0)" font-size="9.6" fill="#000" stroke="#000" stroke-width="0.1">4 Sep 06:00</text>
<text transform="translate(260.00 578.00) scale(0.95 1.0)" font-size="9.6" fill="#000" stroke="#000" stroke-width="0.1">6 Sep 22:00</text>
<text transform="translate(324.00 578.00) scale(0.95 1.0)" font-size="9.6" fill="#000" stroke="#000" stroke-width="0.1">11 Sep 15:00</text>
<text transform="translate(388.00 578.00) scale(0.95 1.0)" font-size="9.6" fill="#000" stroke="#000" stroke-width="0.1">14 Sep 07:00</text>
<text transform="translate(452.00 578.00) scale(0.95 1.0)" font-size="9.6" fill="#000" stroke="#000" stroke-width="0.1">19 Sep 00:00</text>
<text transform="translate(516.00 578.00) scale(0.95 1.0)" font-size="9.6" fill="#000" stroke="#000" stroke-width="0.1">21 Sep 16:00</text>
<text transform="translate(580.00 578.00) scale(0.95 1.0)" font-size="9.6" fill="#000" stroke="#000" stroke-width="0.1">26 Sep 09:00</text>
<text transform="translate(644.00 578.00) scale(0.95 1.0)" font-size="9.6" fill="#000" stroke="#000" stroke-width="0.1">29 Sep 01:00</text>
<text transform="translate(708.00 578.00) scale(0.95 1.0)" font-size="9.6" fill="#000" stroke="#000" stroke-width="0.1">3 Oct 18:00</text>
<text transform="translate(772.00 578.00) scale(0.95 1.0)" font-size="9.6" fill="#000" stroke="#000" stroke-width="0.1">6 Oct 10:00</text>
<text transform="translate(836.00 578.00) scale(0.95 1.0)" font-size="9.6" fill="#000" stroke="#000" stroke-width="0.1">11 Oct 03:00</text>
<text transform="translate(900.00 578.00) scale(0.95 1.0)" font-size="9.6" fill="#000" stroke="#000" stroke-width="0.1">13 Oct 19:00</text>
<text transform="translate(964.00 578.00) scale(0.95 1.0)" font-size="9.6" fill="#000" stroke="#000" stroke-width="0.1">18 Oct 12:00</text>
<path d="M5.5 565V569M69.5 565V569M133.5 565V569M197.5 565V569M261.5 565V569M325.5 565V569M389.5 565V569M453.5 565V569M517.5 565V569M581.5 565V569M645.5 565V569M709.5 565V569M773.5 565V569M837.5 565V569M901.5 565V569M965.5 565V569" stroke="#000" stroke-width="1" shape-rendering="crispEdges"/>
<path d="M8 11H15L11.5 15Z" fill="#000"/>
<text transform="translate(20.00 16.20) scale(0.9 1.0)" font-size="10" fill="#000" stroke="#000" stroke-width="0.1">GER30(€),H1</text>
</svg></body></html>
